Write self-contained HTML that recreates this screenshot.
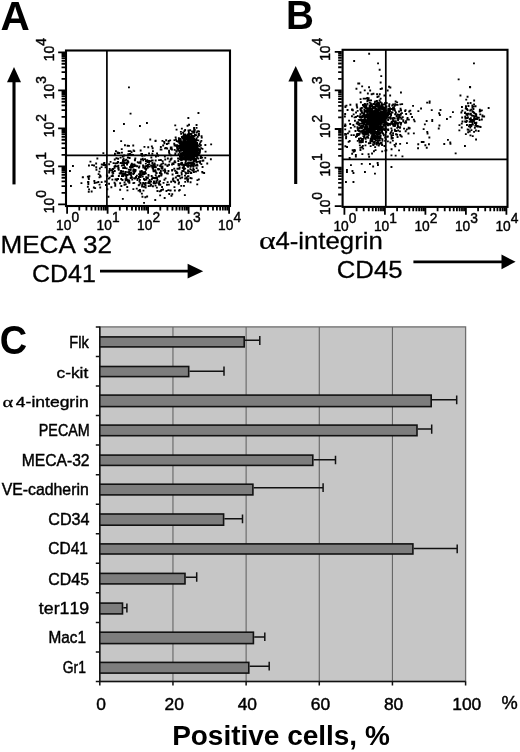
<!DOCTYPE html>
<html><head><meta charset="utf-8"><style>
html,body{margin:0;padding:0;background:#fff;}
svg{display:block;filter:blur(0.35px);font-family:"Liberation Sans", sans-serif;font-kerning:none;}
text{fill:#000;}
</style></head><body>
<svg width="520" height="752" viewBox="0 0 520 752">
<text transform="translate(0.39,29.80) scale(1.000,1)" font-size="40.55" font-weight="bold">A</text>
<text transform="translate(285.91,28.80) scale(0.961,1)" font-size="40.26" font-weight="bold">B</text>
<text transform="translate(-0.36,353.60) scale(0.943,1)" font-size="40.24" font-weight="bold">C</text>
<rect x="66" y="50.5" width="164" height="155.5" fill="none" stroke="#000" stroke-width="2.1"/>
<path d="M65.15 204.30H58.15M65.15 192.86H61.55M65.15 186.17H61.55M65.15 181.42H61.55M65.15 177.74H61.55M65.15 174.73H61.55M65.15 172.19H61.55M65.15 169.98H61.55M65.15 168.04H61.55M65.15 166.30H58.15M65.15 154.86H61.55M65.15 148.17H61.55M65.15 143.42H61.55M65.15 139.74H61.55M65.15 136.73H61.55M65.15 134.19H61.55M65.15 131.98H61.55M65.15 130.04H61.55M65.15 128.30H58.15M65.15 116.86H61.55M65.15 110.17H61.55M65.15 105.42H61.55M65.15 101.74H61.55M65.15 98.73H61.55M65.15 96.19H61.55M65.15 93.98H61.55M65.15 92.04H61.55M65.15 90.30H58.15M65.15 78.86H61.55M65.15 72.17H61.55M65.15 67.42H61.55M65.15 63.74H61.55M65.15 60.73H61.55M65.15 58.19H61.55M65.15 55.98H61.55M65.15 54.04H61.55M65.15 52.30H58.15" stroke="#000" stroke-width="1.8" fill="none"/>
<path d="M67.10 206.85V213.65M79.29 206.85V210.45M86.42 206.85V210.45M91.48 206.85V210.45M95.41 206.85V210.45M98.62 206.85V210.45M101.33 206.85V210.45M103.68 206.85V210.45M105.75 206.85V210.45M107.60 206.85V213.65M119.79 206.85V210.45M126.92 206.85V210.45M131.98 206.85V210.45M135.91 206.85V210.45M139.12 206.85V210.45M141.83 206.85V210.45M144.18 206.85V210.45M146.25 206.85V210.45M148.10 206.85V213.65M160.29 206.85V210.45M167.42 206.85V210.45M172.48 206.85V210.45M176.41 206.85V210.45M179.62 206.85V210.45M182.33 206.85V210.45M184.68 206.85V210.45M186.75 206.85V210.45M188.60 206.85V213.65M200.79 206.85V210.45M207.92 206.85V210.45M212.98 206.85V210.45M216.91 206.85V210.45M220.12 206.85V210.45M222.83 206.85V210.45M225.18 206.85V210.45M227.25 206.85V210.45M229.10 206.85V213.65" stroke="#000" stroke-width="1.8" fill="none"/>
<path d="M106.9 50.5V206M66 155.3H230" stroke="#000" stroke-width="1.7" fill="none"/>
<text transform="translate(56.10,229.8) scale(0.92,1)" font-size="15" stroke="#000" stroke-width="0.45">10<tspan dy="-8.1">0</tspan></text>
<text transform="translate(96.60,229.8) scale(0.92,1)" font-size="15" stroke="#000" stroke-width="0.45">10<tspan dy="-8.1">1</tspan></text>
<text transform="translate(137.10,229.8) scale(0.92,1)" font-size="15" stroke="#000" stroke-width="0.45">10<tspan dy="-8.1">2</tspan></text>
<text transform="translate(177.60,229.8) scale(0.92,1)" font-size="15" stroke="#000" stroke-width="0.45">10<tspan dy="-8.1">3</tspan></text>
<text transform="translate(218.10,229.8) scale(0.92,1)" font-size="15" stroke="#000" stroke-width="0.45">10<tspan dy="-8.1">4</tspan></text>
<text transform="translate(53.7,213.20) rotate(-90) scale(0.92,1)" font-size="15" stroke="#000" stroke-width="0.45">10<tspan dy="-8.1">0</tspan></text>
<text transform="translate(53.7,175.20) rotate(-90) scale(0.92,1)" font-size="15" stroke="#000" stroke-width="0.45">10<tspan dy="-8.1">1</tspan></text>
<text transform="translate(53.7,137.20) rotate(-90) scale(0.92,1)" font-size="15" stroke="#000" stroke-width="0.45">10<tspan dy="-8.1">2</tspan></text>
<text transform="translate(53.7,99.20) rotate(-90) scale(0.92,1)" font-size="15" stroke="#000" stroke-width="0.45">10<tspan dy="-8.1">3</tspan></text>
<text transform="translate(53.7,61.20) rotate(-90) scale(0.92,1)" font-size="15" stroke="#000" stroke-width="0.45">10<tspan dy="-8.1">4</tspan></text>
<rect x="342.6" y="49.8" width="164.89999999999998" height="157.10000000000002" fill="none" stroke="#000" stroke-width="2.1"/>
<path d="M341.75 206.10H334.75M341.75 194.50H338.15M341.75 187.71H338.15M341.75 182.89H338.15M341.75 179.15H338.15M341.75 176.10H338.15M341.75 173.52H338.15M341.75 171.29H338.15M341.75 169.31H338.15M341.75 167.55H334.75M341.75 155.95H338.15M341.75 149.16H338.15M341.75 144.34H338.15M341.75 140.60H338.15M341.75 137.55H338.15M341.75 134.97H338.15M341.75 132.74H338.15M341.75 130.76H338.15M341.75 129.00H334.75M341.75 117.40H338.15M341.75 110.61H338.15M341.75 105.79H338.15M341.75 102.05H338.15M341.75 99.00H338.15M341.75 96.42H338.15M341.75 94.19H338.15M341.75 92.21H338.15M341.75 90.45H334.75M341.75 78.85H338.15M341.75 72.06H338.15M341.75 67.24H338.15M341.75 63.50H338.15M341.75 60.45H338.15M341.75 57.87H338.15M341.75 55.64H338.15M341.75 53.66H338.15M341.75 51.90H334.75" stroke="#000" stroke-width="1.8" fill="none"/>
<path d="M344.40 207.75V214.75M356.59 207.75V211.35M363.72 207.75V211.35M368.78 207.75V211.35M372.71 207.75V211.35M375.92 207.75V211.35M378.63 207.75V211.35M380.98 207.75V211.35M383.05 207.75V211.35M384.90 207.75V214.75M397.09 207.75V211.35M404.22 207.75V211.35M409.28 207.75V211.35M413.21 207.75V211.35M416.42 207.75V211.35M419.13 207.75V211.35M421.48 207.75V211.35M423.55 207.75V211.35M425.40 207.75V214.75M437.59 207.75V211.35M444.72 207.75V211.35M449.78 207.75V211.35M453.71 207.75V211.35M456.92 207.75V211.35M459.63 207.75V211.35M461.98 207.75V211.35M464.05 207.75V211.35M465.90 207.75V214.75M478.09 207.75V211.35M485.22 207.75V211.35M490.28 207.75V211.35M494.21 207.75V211.35M497.42 207.75V211.35M500.13 207.75V211.35M502.48 207.75V211.35M504.55 207.75V211.35M506.40 207.75V214.75" stroke="#000" stroke-width="1.8" fill="none"/>
<path d="M385.8 49.8V206.9M342.6 159.3H507.5" stroke="#000" stroke-width="1.7" fill="none"/>
<text transform="translate(333.40,231.4) scale(0.92,1)" font-size="15" stroke="#000" stroke-width="0.45">10<tspan dy="-8.1">0</tspan></text>
<text transform="translate(373.90,231.4) scale(0.92,1)" font-size="15" stroke="#000" stroke-width="0.45">10<tspan dy="-8.1">1</tspan></text>
<text transform="translate(414.40,231.4) scale(0.92,1)" font-size="15" stroke="#000" stroke-width="0.45">10<tspan dy="-8.1">2</tspan></text>
<text transform="translate(454.90,231.4) scale(0.92,1)" font-size="15" stroke="#000" stroke-width="0.45">10<tspan dy="-8.1">3</tspan></text>
<text transform="translate(495.40,231.4) scale(0.92,1)" font-size="15" stroke="#000" stroke-width="0.45">10<tspan dy="-8.1">4</tspan></text>
<text transform="translate(330.0,215.00) rotate(-90) scale(0.92,1)" font-size="15" stroke="#000" stroke-width="0.45">10<tspan dy="-8.1">0</tspan></text>
<text transform="translate(330.0,176.45) rotate(-90) scale(0.92,1)" font-size="15" stroke="#000" stroke-width="0.45">10<tspan dy="-8.1">1</tspan></text>
<text transform="translate(330.0,137.90) rotate(-90) scale(0.92,1)" font-size="15" stroke="#000" stroke-width="0.45">10<tspan dy="-8.1">2</tspan></text>
<text transform="translate(330.0,99.35) rotate(-90) scale(0.92,1)" font-size="15" stroke="#000" stroke-width="0.45">10<tspan dy="-8.1">3</tspan></text>
<text transform="translate(330.0,60.80) rotate(-90) scale(0.92,1)" font-size="15" stroke="#000" stroke-width="0.45">10<tspan dy="-8.1">4</tspan></text>
<path d="M187.2 150.9h1.9v1.9h-1.9zM187.3 145.4h1.9v1.9h-1.9zM184.2 146.1h1.9v1.9h-1.9zM193.2 150.3h1.9v1.9h-1.9zM192.9 149.1h1.9v1.9h-1.9zM190.0 148.7h1.9v1.9h-1.9zM181.0 153.1h1.9v1.9h-1.9zM190.5 150.8h1.9v1.9h-1.9zM180.9 136.0h1.9v1.9h-1.9zM184.4 144.4h1.9v1.9h-1.9zM189.6 147.2h1.9v1.9h-1.9zM190.6 143.3h1.9v1.9h-1.9zM189.7 150.1h1.9v1.9h-1.9zM185.4 158.8h1.9v1.9h-1.9zM190.7 155.4h1.9v1.9h-1.9zM185.6 142.6h1.9v1.9h-1.9zM186.8 146.8h1.9v1.9h-1.9zM191.1 149.1h1.9v1.9h-1.9zM186.3 141.2h1.9v1.9h-1.9zM186.0 155.6h1.9v1.9h-1.9zM184.7 149.1h1.9v1.9h-1.9zM190.2 137.7h1.9v1.9h-1.9zM188.5 156.1h1.9v1.9h-1.9zM179.4 145.4h1.9v1.9h-1.9zM187.8 142.1h1.9v1.9h-1.9zM190.5 147.1h1.9v1.9h-1.9zM181.9 153.0h1.9v1.9h-1.9zM191.2 153.7h1.9v1.9h-1.9zM194.6 149.9h1.9v1.9h-1.9zM188.8 138.9h1.9v1.9h-1.9zM191.0 143.5h1.9v1.9h-1.9zM186.3 139.2h1.9v1.9h-1.9zM184.0 144.0h1.9v1.9h-1.9zM194.0 134.1h1.9v1.9h-1.9zM181.9 149.1h1.9v1.9h-1.9zM194.7 151.3h1.9v1.9h-1.9zM179.9 130.9h1.9v1.9h-1.9zM189.9 142.6h1.9v1.9h-1.9zM183.4 154.0h1.9v1.9h-1.9zM193.1 148.5h1.9v1.9h-1.9zM189.4 150.4h1.9v1.9h-1.9zM195.3 151.6h1.9v1.9h-1.9zM190.6 151.1h1.9v1.9h-1.9zM181.4 156.0h1.9v1.9h-1.9zM192.5 151.0h1.9v1.9h-1.9zM179.6 143.3h1.9v1.9h-1.9zM192.0 135.5h1.9v1.9h-1.9zM187.5 154.2h1.9v1.9h-1.9zM182.5 158.1h1.9v1.9h-1.9zM190.7 146.5h1.9v1.9h-1.9zM189.7 151.8h1.9v1.9h-1.9zM188.8 155.1h1.9v1.9h-1.9zM185.4 144.8h1.9v1.9h-1.9zM192.9 147.7h1.9v1.9h-1.9zM184.4 153.7h1.9v1.9h-1.9zM194.7 144.6h1.9v1.9h-1.9zM182.2 146.6h1.9v1.9h-1.9zM187.6 145.5h1.9v1.9h-1.9zM194.5 140.7h1.9v1.9h-1.9zM193.8 139.1h1.9v1.9h-1.9zM184.8 151.7h1.9v1.9h-1.9zM193.3 153.2h1.9v1.9h-1.9zM189.8 148.4h1.9v1.9h-1.9zM189.0 151.3h1.9v1.9h-1.9zM187.5 149.3h1.9v1.9h-1.9zM190.8 147.5h1.9v1.9h-1.9zM191.7 151.2h1.9v1.9h-1.9zM197.1 149.6h1.9v1.9h-1.9zM186.4 145.0h1.9v1.9h-1.9zM188.2 153.6h1.9v1.9h-1.9zM186.8 150.0h1.9v1.9h-1.9zM196.4 130.6h1.9v1.9h-1.9zM183.4 149.1h1.9v1.9h-1.9zM190.1 149.1h1.9v1.9h-1.9zM186.4 151.8h1.9v1.9h-1.9zM189.5 144.1h1.9v1.9h-1.9zM199.0 149.8h1.9v1.9h-1.9zM185.9 146.8h1.9v1.9h-1.9zM187.3 147.1h1.9v1.9h-1.9zM176.3 144.3h1.9v1.9h-1.9zM192.7 139.8h1.9v1.9h-1.9zM188.0 153.8h1.9v1.9h-1.9zM192.1 157.3h1.9v1.9h-1.9zM180.8 145.2h1.9v1.9h-1.9zM186.8 151.6h1.9v1.9h-1.9zM193.1 129.8h1.9v1.9h-1.9zM193.1 137.9h1.9v1.9h-1.9zM191.3 137.7h1.9v1.9h-1.9zM189.1 155.4h1.9v1.9h-1.9zM187.6 148.8h1.9v1.9h-1.9zM191.8 148.4h1.9v1.9h-1.9zM187.9 157.6h1.9v1.9h-1.9zM192.9 145.6h1.9v1.9h-1.9zM200.4 139.9h1.9v1.9h-1.9zM192.3 145.7h1.9v1.9h-1.9zM188.9 152.2h1.9v1.9h-1.9zM189.3 151.7h1.9v1.9h-1.9zM181.6 137.5h1.9v1.9h-1.9zM191.0 141.1h1.9v1.9h-1.9zM183.8 137.8h1.9v1.9h-1.9zM193.9 152.4h1.9v1.9h-1.9zM194.8 141.3h1.9v1.9h-1.9zM188.3 140.0h1.9v1.9h-1.9zM191.7 158.0h1.9v1.9h-1.9zM184.4 157.8h1.9v1.9h-1.9zM192.6 146.3h1.9v1.9h-1.9zM179.6 156.8h1.9v1.9h-1.9zM187.9 143.5h1.9v1.9h-1.9zM190.1 150.2h1.9v1.9h-1.9zM194.9 140.8h1.9v1.9h-1.9zM193.3 157.3h1.9v1.9h-1.9zM194.7 146.3h1.9v1.9h-1.9zM185.0 154.2h1.9v1.9h-1.9zM188.8 148.3h1.9v1.9h-1.9zM194.6 145.8h1.9v1.9h-1.9zM178.2 144.9h1.9v1.9h-1.9zM180.1 152.9h1.9v1.9h-1.9zM189.7 143.5h1.9v1.9h-1.9zM188.3 153.0h1.9v1.9h-1.9zM188.6 156.3h1.9v1.9h-1.9zM188.0 154.4h1.9v1.9h-1.9zM194.9 158.1h1.9v1.9h-1.9zM185.3 153.3h1.9v1.9h-1.9zM180.0 140.3h1.9v1.9h-1.9zM179.7 154.6h1.9v1.9h-1.9zM182.9 147.4h1.9v1.9h-1.9zM187.5 147.3h1.9v1.9h-1.9zM185.7 149.0h1.9v1.9h-1.9zM196.2 147.8h1.9v1.9h-1.9zM190.6 154.1h1.9v1.9h-1.9zM187.4 139.2h1.9v1.9h-1.9zM185.9 154.6h1.9v1.9h-1.9zM181.1 143.6h1.9v1.9h-1.9zM192.7 152.7h1.9v1.9h-1.9zM188.3 152.8h1.9v1.9h-1.9zM189.0 139.7h1.9v1.9h-1.9zM181.4 143.3h1.9v1.9h-1.9zM192.4 143.8h1.9v1.9h-1.9zM184.3 142.4h1.9v1.9h-1.9zM181.6 146.7h1.9v1.9h-1.9zM183.1 149.9h1.9v1.9h-1.9zM177.9 149.7h1.9v1.9h-1.9zM185.5 134.7h1.9v1.9h-1.9zM191.5 145.7h1.9v1.9h-1.9zM178.5 141.7h1.9v1.9h-1.9zM189.6 144.5h1.9v1.9h-1.9zM191.7 152.4h1.9v1.9h-1.9zM191.2 149.7h1.9v1.9h-1.9zM194.2 151.9h1.9v1.9h-1.9zM190.3 133.7h1.9v1.9h-1.9zM192.2 156.1h1.9v1.9h-1.9zM187.0 144.4h1.9v1.9h-1.9zM196.8 135.9h1.9v1.9h-1.9zM190.4 163.5h1.9v1.9h-1.9zM184.2 152.1h1.9v1.9h-1.9zM196.6 146.7h1.9v1.9h-1.9zM190.8 153.5h1.9v1.9h-1.9zM184.3 146.9h1.9v1.9h-1.9zM189.6 152.9h1.9v1.9h-1.9zM188.1 146.2h1.9v1.9h-1.9zM183.8 145.1h1.9v1.9h-1.9zM192.2 148.2h1.9v1.9h-1.9zM184.5 141.9h1.9v1.9h-1.9zM200.0 155.0h1.9v1.9h-1.9zM191.1 130.4h1.9v1.9h-1.9zM191.0 150.7h1.9v1.9h-1.9zM195.7 150.3h1.9v1.9h-1.9zM188.0 150.9h1.9v1.9h-1.9zM179.7 154.3h1.9v1.9h-1.9zM189.7 142.9h1.9v1.9h-1.9zM194.1 159.4h1.9v1.9h-1.9zM182.1 143.1h1.9v1.9h-1.9zM189.6 148.7h1.9v1.9h-1.9zM186.5 141.1h1.9v1.9h-1.9zM197.6 154.3h1.9v1.9h-1.9zM183.0 138.6h1.9v1.9h-1.9zM195.8 154.0h1.9v1.9h-1.9zM196.3 152.8h1.9v1.9h-1.9zM184.5 149.2h1.9v1.9h-1.9zM178.8 142.6h1.9v1.9h-1.9zM188.0 151.0h1.9v1.9h-1.9zM185.1 146.7h1.9v1.9h-1.9zM190.3 150.0h1.9v1.9h-1.9zM191.1 148.9h1.9v1.9h-1.9zM186.9 152.7h1.9v1.9h-1.9zM188.5 142.0h1.9v1.9h-1.9zM185.5 147.5h1.9v1.9h-1.9zM187.8 148.5h1.9v1.9h-1.9zM188.3 148.7h1.9v1.9h-1.9zM187.7 139.2h1.9v1.9h-1.9zM190.2 154.5h1.9v1.9h-1.9zM190.2 146.3h1.9v1.9h-1.9zM190.3 141.1h1.9v1.9h-1.9zM180.0 147.9h1.9v1.9h-1.9zM184.2 152.4h1.9v1.9h-1.9zM183.5 130.2h1.9v1.9h-1.9zM183.7 157.9h1.9v1.9h-1.9zM186.6 138.5h1.9v1.9h-1.9zM184.9 150.9h1.9v1.9h-1.9zM190.5 148.7h1.9v1.9h-1.9zM194.8 152.2h1.9v1.9h-1.9zM188.2 151.4h1.9v1.9h-1.9zM195.6 153.9h1.9v1.9h-1.9zM192.8 140.4h1.9v1.9h-1.9zM187.6 152.3h1.9v1.9h-1.9zM187.0 154.6h1.9v1.9h-1.9zM190.9 153.5h1.9v1.9h-1.9zM187.4 164.3h1.9v1.9h-1.9zM193.8 146.1h1.9v1.9h-1.9zM188.7 164.6h1.9v1.9h-1.9zM186.8 153.3h1.9v1.9h-1.9zM192.6 147.5h1.9v1.9h-1.9zM183.2 148.7h1.9v1.9h-1.9zM189.9 155.0h1.9v1.9h-1.9zM191.7 147.7h1.9v1.9h-1.9zM192.1 151.1h1.9v1.9h-1.9zM189.2 147.9h1.9v1.9h-1.9zM187.2 152.0h1.9v1.9h-1.9zM183.7 143.4h1.9v1.9h-1.9zM188.3 137.8h1.9v1.9h-1.9zM186.4 134.2h1.9v1.9h-1.9zM185.3 151.3h1.9v1.9h-1.9zM190.8 147.1h1.9v1.9h-1.9zM187.3 138.1h1.9v1.9h-1.9zM196.3 150.9h1.9v1.9h-1.9zM193.1 141.7h1.9v1.9h-1.9zM187.5 135.5h1.9v1.9h-1.9zM191.7 153.7h1.9v1.9h-1.9zM180.0 147.2h1.9v1.9h-1.9zM191.1 135.9h1.9v1.9h-1.9zM180.3 140.5h1.9v1.9h-1.9zM185.5 138.2h1.9v1.9h-1.9zM188.4 149.1h1.9v1.9h-1.9zM191.1 152.1h1.9v1.9h-1.9zM194.9 155.2h1.9v1.9h-1.9zM182.5 144.2h1.9v1.9h-1.9zM183.6 140.4h1.9v1.9h-1.9zM187.9 147.5h1.9v1.9h-1.9zM190.5 137.0h1.9v1.9h-1.9zM182.9 147.3h1.9v1.9h-1.9zM187.4 145.4h1.9v1.9h-1.9zM188.0 142.5h1.9v1.9h-1.9zM191.4 149.8h1.9v1.9h-1.9zM187.9 143.1h1.9v1.9h-1.9zM187.5 129.5h1.9v1.9h-1.9zM184.0 147.7h1.9v1.9h-1.9zM181.7 148.8h1.9v1.9h-1.9zM188.9 138.4h1.9v1.9h-1.9zM187.2 145.4h1.9v1.9h-1.9zM190.3 151.5h1.9v1.9h-1.9zM188.1 141.9h1.9v1.9h-1.9zM187.7 147.1h1.9v1.9h-1.9zM191.5 149.4h1.9v1.9h-1.9zM185.1 138.6h1.9v1.9h-1.9zM186.7 142.6h1.9v1.9h-1.9zM183.4 146.7h1.9v1.9h-1.9zM186.1 148.2h1.9v1.9h-1.9zM190.6 144.8h1.9v1.9h-1.9zM198.5 145.4h1.9v1.9h-1.9zM193.1 148.3h1.9v1.9h-1.9zM193.2 131.8h1.9v1.9h-1.9zM185.0 149.1h1.9v1.9h-1.9zM191.0 162.9h1.9v1.9h-1.9zM189.7 155.9h1.9v1.9h-1.9zM191.7 153.8h1.9v1.9h-1.9zM190.5 146.5h1.9v1.9h-1.9zM190.5 140.4h1.9v1.9h-1.9zM193.5 140.8h1.9v1.9h-1.9zM189.4 161.5h1.9v1.9h-1.9zM187.3 147.6h1.9v1.9h-1.9zM193.4 147.7h1.9v1.9h-1.9zM184.7 149.2h1.9v1.9h-1.9zM190.9 152.2h1.9v1.9h-1.9zM184.9 159.1h1.9v1.9h-1.9zM195.6 147.6h1.9v1.9h-1.9zM189.5 144.7h1.9v1.9h-1.9zM194.5 142.8h1.9v1.9h-1.9zM191.3 144.3h1.9v1.9h-1.9zM185.2 152.2h1.9v1.9h-1.9zM194.2 147.4h1.9v1.9h-1.9zM185.3 152.9h1.9v1.9h-1.9zM188.1 149.6h1.9v1.9h-1.9zM195.0 155.0h1.9v1.9h-1.9zM186.0 162.6h1.9v1.9h-1.9zM188.3 152.7h1.9v1.9h-1.9zM185.5 147.2h1.9v1.9h-1.9zM180.6 159.3h1.9v1.9h-1.9zM194.3 139.5h1.9v1.9h-1.9zM181.7 136.8h1.9v1.9h-1.9zM193.5 144.5h1.9v1.9h-1.9zM188.0 145.4h1.9v1.9h-1.9zM187.8 140.3h1.9v1.9h-1.9zM188.4 138.0h1.9v1.9h-1.9zM188.0 149.5h1.9v1.9h-1.9zM190.4 146.0h1.9v1.9h-1.9zM184.3 148.6h1.9v1.9h-1.9zM186.2 157.8h1.9v1.9h-1.9zM191.7 146.7h1.9v1.9h-1.9zM186.2 142.9h1.9v1.9h-1.9zM184.2 145.2h1.9v1.9h-1.9zM189.6 150.9h1.9v1.9h-1.9zM190.8 161.4h1.9v1.9h-1.9zM185.2 147.6h1.9v1.9h-1.9zM200.6 135.2h1.9v1.9h-1.9zM186.0 148.6h1.9v1.9h-1.9zM189.0 150.2h1.9v1.9h-1.9zM187.2 149.9h1.9v1.9h-1.9zM188.5 152.6h1.9v1.9h-1.9zM180.0 141.7h1.9v1.9h-1.9zM188.3 140.7h1.9v1.9h-1.9zM183.7 151.6h1.9v1.9h-1.9zM185.4 151.7h1.9v1.9h-1.9zM191.6 149.5h1.9v1.9h-1.9zM190.5 146.8h1.9v1.9h-1.9zM182.1 147.3h1.9v1.9h-1.9zM190.3 144.0h1.9v1.9h-1.9zM187.9 152.4h1.9v1.9h-1.9zM184.4 151.7h1.9v1.9h-1.9zM196.5 143.8h1.9v1.9h-1.9zM188.9 146.5h1.9v1.9h-1.9zM195.1 149.6h1.9v1.9h-1.9zM192.3 142.9h1.9v1.9h-1.9zM188.2 147.4h1.9v1.9h-1.9zM180.5 157.0h1.9v1.9h-1.9zM192.3 136.0h1.9v1.9h-1.9zM191.6 146.6h1.9v1.9h-1.9zM190.3 149.9h1.9v1.9h-1.9zM181.7 146.1h1.9v1.9h-1.9zM194.9 143.7h1.9v1.9h-1.9zM183.8 138.5h1.9v1.9h-1.9zM182.9 149.7h1.9v1.9h-1.9zM195.7 150.3h1.9v1.9h-1.9zM189.4 162.2h1.9v1.9h-1.9zM186.0 143.1h1.9v1.9h-1.9zM190.6 151.1h1.9v1.9h-1.9zM183.8 139.8h1.9v1.9h-1.9zM189.6 149.1h1.9v1.9h-1.9zM182.5 146.2h1.9v1.9h-1.9zM185.9 150.5h1.9v1.9h-1.9zM187.8 146.9h1.9v1.9h-1.9zM186.7 154.5h1.9v1.9h-1.9zM194.4 145.1h1.9v1.9h-1.9zM192.0 142.5h1.9v1.9h-1.9zM188.6 152.4h1.9v1.9h-1.9zM195.0 145.0h1.9v1.9h-1.9zM188.0 148.8h1.9v1.9h-1.9zM181.7 147.6h1.9v1.9h-1.9zM185.3 150.0h1.9v1.9h-1.9zM183.3 134.5h1.9v1.9h-1.9zM188.5 149.2h1.9v1.9h-1.9zM185.9 153.4h1.9v1.9h-1.9zM187.1 143.5h1.9v1.9h-1.9zM190.4 137.1h1.9v1.9h-1.9zM185.3 147.4h1.9v1.9h-1.9zM192.0 146.4h1.9v1.9h-1.9zM189.7 143.2h1.9v1.9h-1.9zM189.6 158.5h1.9v1.9h-1.9zM185.3 163.1h1.9v1.9h-1.9zM185.5 147.6h1.9v1.9h-1.9zM189.1 154.3h1.9v1.9h-1.9zM182.9 133.6h1.9v1.9h-1.9zM191.0 152.7h1.9v1.9h-1.9zM191.0 164.9h1.9v1.9h-1.9zM189.2 149.2h1.9v1.9h-1.9zM192.4 149.9h1.9v1.9h-1.9zM195.6 139.3h1.9v1.9h-1.9zM186.6 124.8h1.9v1.9h-1.9zM191.9 145.0h1.9v1.9h-1.9zM192.4 161.7h1.9v1.9h-1.9zM188.3 145.8h1.9v1.9h-1.9zM186.1 142.0h1.9v1.9h-1.9zM185.5 151.7h1.9v1.9h-1.9zM188.5 147.9h1.9v1.9h-1.9zM187.5 153.5h1.9v1.9h-1.9zM190.5 146.6h1.9v1.9h-1.9zM191.2 146.5h1.9v1.9h-1.9zM183.2 157.1h1.9v1.9h-1.9zM190.3 141.2h1.9v1.9h-1.9zM193.0 149.8h1.9v1.9h-1.9zM181.4 158.1h1.9v1.9h-1.9zM189.8 153.4h1.9v1.9h-1.9zM189.2 146.5h1.9v1.9h-1.9zM181.5 153.9h1.9v1.9h-1.9zM188.4 145.6h1.9v1.9h-1.9zM189.8 148.0h1.9v1.9h-1.9zM191.3 145.1h1.9v1.9h-1.9zM188.1 133.4h1.9v1.9h-1.9zM186.4 152.0h1.9v1.9h-1.9zM194.2 145.1h1.9v1.9h-1.9zM187.8 158.0h1.9v1.9h-1.9zM186.9 152.3h1.9v1.9h-1.9zM195.7 147.8h1.9v1.9h-1.9zM193.7 142.8h1.9v1.9h-1.9zM189.2 147.0h1.9v1.9h-1.9zM188.8 155.0h1.9v1.9h-1.9zM198.8 143.1h1.9v1.9h-1.9zM185.8 150.8h1.9v1.9h-1.9zM183.7 150.8h1.9v1.9h-1.9zM190.8 145.7h1.9v1.9h-1.9zM190.6 137.3h1.9v1.9h-1.9zM191.6 137.3h1.9v1.9h-1.9zM185.2 143.8h1.9v1.9h-1.9zM186.5 153.2h1.9v1.9h-1.9zM188.7 144.9h1.9v1.9h-1.9zM190.7 157.9h1.9v1.9h-1.9zM188.3 149.9h1.9v1.9h-1.9zM193.8 149.3h1.9v1.9h-1.9zM182.7 163.9h1.9v1.9h-1.9zM198.0 134.4h1.9v1.9h-1.9zM188.1 150.3h1.9v1.9h-1.9zM192.5 151.9h1.9v1.9h-1.9zM187.1 140.5h1.9v1.9h-1.9zM188.8 154.3h1.9v1.9h-1.9zM183.5 140.7h1.9v1.9h-1.9zM188.2 134.7h1.9v1.9h-1.9zM187.2 144.6h1.9v1.9h-1.9zM190.3 142.9h1.9v1.9h-1.9zM184.4 144.9h1.9v1.9h-1.9zM188.1 143.1h1.9v1.9h-1.9zM188.4 152.5h1.9v1.9h-1.9zM193.5 158.8h1.9v1.9h-1.9zM184.9 144.7h1.9v1.9h-1.9zM177.4 160.0h1.9v1.9h-1.9zM185.1 147.3h1.9v1.9h-1.9zM190.6 138.5h1.9v1.9h-1.9zM190.3 147.3h1.9v1.9h-1.9zM180.3 149.4h1.9v1.9h-1.9zM193.6 135.2h1.9v1.9h-1.9zM191.9 148.9h1.9v1.9h-1.9zM190.4 150.4h1.9v1.9h-1.9zM194.0 146.0h1.9v1.9h-1.9zM192.1 144.8h1.9v1.9h-1.9zM191.5 142.1h1.9v1.9h-1.9zM187.8 158.9h1.9v1.9h-1.9zM190.3 146.5h1.9v1.9h-1.9zM183.3 142.3h1.9v1.9h-1.9zM189.2 153.7h1.9v1.9h-1.9zM190.2 151.0h1.9v1.9h-1.9zM188.1 156.4h1.9v1.9h-1.9zM186.6 143.9h1.9v1.9h-1.9zM192.2 147.9h1.9v1.9h-1.9zM187.1 143.7h1.9v1.9h-1.9zM187.2 151.6h1.9v1.9h-1.9zM189.9 139.5h1.9v1.9h-1.9zM190.2 148.7h1.9v1.9h-1.9zM183.9 152.6h1.9v1.9h-1.9zM187.1 145.3h1.9v1.9h-1.9zM191.8 156.2h1.9v1.9h-1.9zM185.3 150.4h1.9v1.9h-1.9zM184.4 162.8h1.9v1.9h-1.9zM186.1 155.4h1.9v1.9h-1.9zM185.5 152.9h1.9v1.9h-1.9zM198.1 130.7h1.9v1.9h-1.9zM186.4 150.8h1.9v1.9h-1.9zM187.9 143.1h1.9v1.9h-1.9zM197.8 148.0h1.9v1.9h-1.9zM181.1 153.1h1.9v1.9h-1.9zM180.7 155.1h1.9v1.9h-1.9zM185.8 148.5h1.9v1.9h-1.9zM193.8 148.3h1.9v1.9h-1.9zM182.2 136.3h1.9v1.9h-1.9zM193.5 152.4h1.9v1.9h-1.9zM184.7 153.2h1.9v1.9h-1.9zM190.5 151.8h1.9v1.9h-1.9zM178.4 145.5h1.9v1.9h-1.9zM192.3 152.3h1.9v1.9h-1.9zM192.2 131.3h1.9v1.9h-1.9zM189.0 150.7h1.9v1.9h-1.9zM199.5 141.2h1.9v1.9h-1.9zM186.9 147.7h1.9v1.9h-1.9zM192.2 144.6h1.9v1.9h-1.9zM193.3 142.3h1.9v1.9h-1.9zM189.5 144.0h1.9v1.9h-1.9zM189.0 142.9h1.9v1.9h-1.9zM181.3 154.7h1.9v1.9h-1.9zM189.6 143.8h1.9v1.9h-1.9zM189.2 154.0h1.9v1.9h-1.9zM184.0 146.8h1.9v1.9h-1.9zM190.7 151.0h1.9v1.9h-1.9zM186.8 133.6h1.9v1.9h-1.9zM193.8 149.7h1.9v1.9h-1.9zM188.4 145.7h1.9v1.9h-1.9zM189.5 144.7h1.9v1.9h-1.9zM183.8 142.6h1.9v1.9h-1.9zM185.7 143.5h1.9v1.9h-1.9zM183.2 151.7h1.9v1.9h-1.9zM182.5 151.9h1.9v1.9h-1.9zM183.8 149.8h1.9v1.9h-1.9zM194.3 148.8h1.9v1.9h-1.9zM185.1 147.8h1.9v1.9h-1.9zM189.0 136.1h1.9v1.9h-1.9zM185.6 148.6h1.9v1.9h-1.9zM186.2 148.0h1.9v1.9h-1.9zM191.5 152.6h1.9v1.9h-1.9zM192.3 151.4h1.9v1.9h-1.9zM187.0 147.4h1.9v1.9h-1.9zM187.1 145.4h1.9v1.9h-1.9zM187.5 136.1h1.9v1.9h-1.9zM186.8 147.3h1.9v1.9h-1.9zM184.0 147.3h1.9v1.9h-1.9zM190.6 146.4h1.9v1.9h-1.9zM197.4 130.3h1.9v1.9h-1.9zM187.4 135.5h1.9v1.9h-1.9zM192.6 165.0h1.9v1.9h-1.9zM177.3 148.3h1.9v1.9h-1.9zM190.6 145.5h1.9v1.9h-1.9zM190.7 132.7h1.9v1.9h-1.9zM192.0 150.0h1.9v1.9h-1.9zM188.4 143.6h1.9v1.9h-1.9zM191.1 144.3h1.9v1.9h-1.9zM189.3 144.1h1.9v1.9h-1.9zM178.4 147.3h1.9v1.9h-1.9zM189.2 152.5h1.9v1.9h-1.9zM184.4 147.3h1.9v1.9h-1.9zM191.0 148.5h1.9v1.9h-1.9zM193.8 160.6h1.9v1.9h-1.9zM184.3 134.8h1.9v1.9h-1.9zM192.1 157.6h1.9v1.9h-1.9zM192.4 152.9h1.9v1.9h-1.9zM185.6 142.8h1.9v1.9h-1.9zM192.2 141.5h1.9v1.9h-1.9zM180.3 140.9h1.9v1.9h-1.9zM199.3 160.2h1.9v1.9h-1.9zM185.3 142.7h1.9v1.9h-1.9zM189.3 142.6h1.9v1.9h-1.9zM194.1 147.0h1.9v1.9h-1.9zM183.5 156.1h1.9v1.9h-1.9zM185.7 149.0h1.9v1.9h-1.9zM188.2 145.4h1.9v1.9h-1.9zM189.7 142.9h1.9v1.9h-1.9zM180.2 132.9h1.9v1.9h-1.9zM182.7 142.5h1.9v1.9h-1.9zM188.2 147.9h1.9v1.9h-1.9zM190.7 148.3h1.9v1.9h-1.9zM184.8 142.8h1.9v1.9h-1.9zM179.0 146.4h1.9v1.9h-1.9zM190.4 151.0h1.9v1.9h-1.9zM187.8 146.4h1.9v1.9h-1.9zM192.4 147.6h1.9v1.9h-1.9zM191.5 151.3h1.9v1.9h-1.9zM189.2 156.1h1.9v1.9h-1.9zM185.8 145.1h1.9v1.9h-1.9zM184.7 142.2h1.9v1.9h-1.9zM195.1 159.1h1.9v1.9h-1.9zM188.4 151.3h1.9v1.9h-1.9zM193.5 152.8h1.9v1.9h-1.9zM193.6 139.2h1.9v1.9h-1.9zM185.5 150.5h1.9v1.9h-1.9zM194.6 148.2h1.9v1.9h-1.9zM184.5 145.2h1.9v1.9h-1.9zM185.4 141.8h1.9v1.9h-1.9zM194.9 143.4h1.9v1.9h-1.9zM188.4 161.8h1.9v1.9h-1.9zM193.5 149.7h1.9v1.9h-1.9zM185.6 150.2h1.9v1.9h-1.9zM195.4 151.6h1.9v1.9h-1.9zM193.9 148.1h1.9v1.9h-1.9zM190.6 146.2h1.9v1.9h-1.9zM190.2 156.1h1.9v1.9h-1.9zM182.0 147.1h1.9v1.9h-1.9zM189.4 143.7h1.9v1.9h-1.9zM186.9 152.7h1.9v1.9h-1.9zM197.1 151.7h1.9v1.9h-1.9zM189.7 137.3h1.9v1.9h-1.9zM196.8 148.0h1.9v1.9h-1.9zM188.2 140.1h1.9v1.9h-1.9zM188.0 140.3h1.9v1.9h-1.9zM188.6 150.6h1.9v1.9h-1.9zM188.4 149.3h1.9v1.9h-1.9zM184.6 156.9h1.9v1.9h-1.9zM185.4 135.5h1.9v1.9h-1.9zM187.5 142.5h1.9v1.9h-1.9zM183.9 145.2h1.9v1.9h-1.9zM189.6 139.7h1.9v1.9h-1.9zM187.7 156.9h1.9v1.9h-1.9zM191.3 146.5h1.9v1.9h-1.9zM188.9 146.7h1.9v1.9h-1.9zM188.1 152.3h1.9v1.9h-1.9zM187.9 131.6h1.9v1.9h-1.9zM188.2 141.6h1.9v1.9h-1.9zM191.2 143.5h1.9v1.9h-1.9zM189.0 161.9h1.9v1.9h-1.9zM183.7 140.1h1.9v1.9h-1.9zM182.1 131.7h1.9v1.9h-1.9zM180.0 149.9h1.9v1.9h-1.9zM185.5 135.2h1.9v1.9h-1.9zM181.8 151.6h1.9v1.9h-1.9zM184.9 145.1h1.9v1.9h-1.9zM189.8 156.5h1.9v1.9h-1.9zM196.8 154.3h1.9v1.9h-1.9zM188.9 148.7h1.9v1.9h-1.9zM196.2 156.9h1.9v1.9h-1.9zM186.9 150.5h1.9v1.9h-1.9zM189.6 147.8h1.9v1.9h-1.9zM186.1 138.7h1.9v1.9h-1.9zM186.0 137.3h1.9v1.9h-1.9zM193.7 151.0h1.9v1.9h-1.9zM183.0 156.7h1.9v1.9h-1.9zM192.2 134.9h1.9v1.9h-1.9zM196.4 152.8h1.9v1.9h-1.9zM197.4 139.4h1.9v1.9h-1.9zM190.6 150.3h1.9v1.9h-1.9zM189.2 148.6h1.9v1.9h-1.9zM192.9 137.6h1.9v1.9h-1.9zM182.8 138.3h1.9v1.9h-1.9zM185.8 143.5h1.9v1.9h-1.9zM189.9 149.3h1.9v1.9h-1.9zM188.4 143.0h1.9v1.9h-1.9zM186.4 153.8h1.9v1.9h-1.9zM191.7 148.2h1.9v1.9h-1.9zM186.9 157.7h1.9v1.9h-1.9zM185.7 151.8h1.9v1.9h-1.9zM193.4 145.7h1.9v1.9h-1.9zM191.9 140.1h1.9v1.9h-1.9zM192.8 148.8h1.9v1.9h-1.9zM181.3 151.9h1.9v1.9h-1.9zM184.4 156.0h1.9v1.9h-1.9zM185.3 146.4h1.9v1.9h-1.9zM189.5 145.3h1.9v1.9h-1.9zM189.4 143.8h1.9v1.9h-1.9zM191.3 147.5h1.9v1.9h-1.9zM189.2 129.3h1.9v1.9h-1.9zM193.4 147.7h1.9v1.9h-1.9zM180.5 148.1h1.9v1.9h-1.9zM190.4 154.6h1.9v1.9h-1.9zM183.5 157.7h1.9v1.9h-1.9zM187.6 163.3h1.9v1.9h-1.9zM187.7 152.0h1.9v1.9h-1.9zM186.7 140.1h1.9v1.9h-1.9zM193.1 153.5h1.9v1.9h-1.9zM195.1 153.2h1.9v1.9h-1.9zM185.8 136.5h1.9v1.9h-1.9zM185.4 143.0h1.9v1.9h-1.9zM184.7 151.3h1.9v1.9h-1.9zM189.7 145.7h1.9v1.9h-1.9zM189.1 146.5h1.9v1.9h-1.9zM189.2 152.5h1.9v1.9h-1.9zM192.5 143.0h1.9v1.9h-1.9zM181.7 156.9h1.9v1.9h-1.9zM188.8 154.8h1.9v1.9h-1.9zM181.1 145.3h1.9v1.9h-1.9zM188.4 138.0h1.9v1.9h-1.9zM186.0 152.3h1.9v1.9h-1.9zM193.0 158.0h1.9v1.9h-1.9zM184.5 138.3h1.9v1.9h-1.9zM190.6 153.7h1.9v1.9h-1.9zM189.1 138.9h1.9v1.9h-1.9zM191.7 152.7h1.9v1.9h-1.9zM190.7 144.3h1.9v1.9h-1.9zM189.6 152.7h1.9v1.9h-1.9zM185.8 135.3h1.9v1.9h-1.9zM189.7 150.7h1.9v1.9h-1.9zM188.4 153.4h1.9v1.9h-1.9zM185.7 147.0h1.9v1.9h-1.9zM187.0 151.3h1.9v1.9h-1.9zM195.3 145.8h1.9v1.9h-1.9zM197.3 157.6h1.9v1.9h-1.9zM191.8 151.4h1.9v1.9h-1.9zM196.1 146.3h1.9v1.9h-1.9zM187.8 140.5h1.9v1.9h-1.9zM190.4 156.4h1.9v1.9h-1.9zM190.6 150.3h1.9v1.9h-1.9zM187.4 148.6h1.9v1.9h-1.9zM182.0 154.4h1.9v1.9h-1.9zM186.5 140.2h1.9v1.9h-1.9zM185.0 142.1h1.9v1.9h-1.9zM192.1 154.5h1.9v1.9h-1.9zM182.3 153.6h1.9v1.9h-1.9zM192.2 143.7h1.9v1.9h-1.9zM181.8 142.6h1.9v1.9h-1.9zM185.5 149.8h1.9v1.9h-1.9zM186.7 134.1h1.9v1.9h-1.9zM189.3 137.4h1.9v1.9h-1.9zM192.3 139.5h1.9v1.9h-1.9zM185.3 141.9h1.9v1.9h-1.9zM185.9 156.1h1.9v1.9h-1.9zM192.0 151.5h1.9v1.9h-1.9zM189.7 137.3h1.9v1.9h-1.9zM186.0 143.9h1.9v1.9h-1.9zM184.0 150.9h1.9v1.9h-1.9zM185.0 142.8h1.9v1.9h-1.9zM183.7 133.9h1.9v1.9h-1.9zM190.9 156.3h1.9v1.9h-1.9zM189.1 141.1h1.9v1.9h-1.9zM176.4 148.6h1.9v1.9h-1.9zM193.7 149.5h1.9v1.9h-1.9zM192.4 157.3h1.9v1.9h-1.9zM193.3 144.6h1.9v1.9h-1.9zM192.9 152.6h1.9v1.9h-1.9zM181.5 144.8h1.9v1.9h-1.9zM182.0 146.8h1.9v1.9h-1.9zM190.8 140.5h1.9v1.9h-1.9zM179.3 156.1h1.9v1.9h-1.9zM190.0 157.2h1.9v1.9h-1.9zM182.5 154.5h1.9v1.9h-1.9zM197.4 160.7h1.9v1.9h-1.9zM187.4 149.3h1.9v1.9h-1.9zM187.6 154.1h1.9v1.9h-1.9zM192.9 148.1h1.9v1.9h-1.9zM182.3 152.4h1.9v1.9h-1.9zM186.2 151.7h1.9v1.9h-1.9zM189.5 158.2h1.9v1.9h-1.9zM193.3 144.5h1.9v1.9h-1.9zM189.8 159.1h1.9v1.9h-1.9zM185.9 150.4h1.9v1.9h-1.9zM193.5 155.8h1.9v1.9h-1.9zM190.6 138.8h1.9v1.9h-1.9zM182.8 149.1h1.9v1.9h-1.9zM190.0 164.3h1.9v1.9h-1.9zM184.5 155.0h1.9v1.9h-1.9zM191.7 136.5h1.9v1.9h-1.9zM184.7 148.6h1.9v1.9h-1.9zM186.1 146.5h1.9v1.9h-1.9zM190.4 142.2h1.9v1.9h-1.9zM190.4 143.3h1.9v1.9h-1.9zM185.9 151.0h1.9v1.9h-1.9zM185.8 149.4h1.9v1.9h-1.9zM195.3 147.7h1.9v1.9h-1.9zM187.7 152.4h1.9v1.9h-1.9zM186.7 154.6h1.9v1.9h-1.9zM182.7 151.6h1.9v1.9h-1.9zM186.0 142.2h1.9v1.9h-1.9zM196.1 141.9h1.9v1.9h-1.9zM196.0 151.8h1.9v1.9h-1.9zM194.7 141.1h1.9v1.9h-1.9zM193.6 157.1h1.9v1.9h-1.9zM187.8 146.6h1.9v1.9h-1.9zM199.1 148.7h1.9v1.9h-1.9zM186.4 143.3h1.9v1.9h-1.9zM190.3 149.7h1.9v1.9h-1.9zM189.1 158.9h1.9v1.9h-1.9zM186.9 150.6h1.9v1.9h-1.9zM194.7 140.9h1.9v1.9h-1.9zM192.9 159.6h1.9v1.9h-1.9zM182.3 140.3h1.9v1.9h-1.9zM183.7 135.3h1.9v1.9h-1.9zM190.3 135.2h1.9v1.9h-1.9zM190.5 157.1h1.9v1.9h-1.9zM181.2 145.4h1.9v1.9h-1.9zM179.9 152.6h1.9v1.9h-1.9zM185.1 145.7h1.9v1.9h-1.9zM188.5 151.1h1.9v1.9h-1.9zM186.8 147.6h1.9v1.9h-1.9zM185.9 148.3h1.9v1.9h-1.9zM183.1 147.9h1.9v1.9h-1.9zM179.8 144.3h1.9v1.9h-1.9zM196.7 148.0h1.9v1.9h-1.9zM182.8 149.2h1.9v1.9h-1.9zM184.0 136.6h1.9v1.9h-1.9zM185.1 152.4h1.9v1.9h-1.9zM190.0 146.9h1.9v1.9h-1.9zM184.2 140.4h1.9v1.9h-1.9zM194.2 149.1h1.9v1.9h-1.9zM184.1 133.6h1.9v1.9h-1.9zM182.3 163.8h1.9v1.9h-1.9zM183.2 147.0h1.9v1.9h-1.9zM189.2 146.5h1.9v1.9h-1.9zM187.1 138.4h1.9v1.9h-1.9zM183.7 158.6h1.9v1.9h-1.9zM185.0 153.1h1.9v1.9h-1.9zM180.8 145.7h1.9v1.9h-1.9zM189.4 154.3h1.9v1.9h-1.9zM183.4 151.4h1.9v1.9h-1.9zM190.0 142.6h1.9v1.9h-1.9zM190.4 141.6h1.9v1.9h-1.9zM184.8 147.4h1.9v1.9h-1.9zM176.4 146.8h1.9v1.9h-1.9zM183.9 137.8h1.9v1.9h-1.9zM186.4 152.5h1.9v1.9h-1.9zM186.5 155.9h1.9v1.9h-1.9zM183.2 138.8h1.9v1.9h-1.9zM195.1 150.1h1.9v1.9h-1.9zM192.5 142.0h1.9v1.9h-1.9zM191.8 149.2h1.9v1.9h-1.9zM191.2 147.7h1.9v1.9h-1.9zM193.6 143.2h1.9v1.9h-1.9zM184.1 137.7h1.9v1.9h-1.9zM193.4 142.6h1.9v1.9h-1.9zM183.7 141.3h1.9v1.9h-1.9zM186.3 139.1h1.9v1.9h-1.9zM187.0 143.4h1.9v1.9h-1.9zM185.9 141.2h1.9v1.9h-1.9zM188.5 144.5h1.9v1.9h-1.9zM188.8 149.1h1.9v1.9h-1.9zM189.8 133.1h1.9v1.9h-1.9zM185.9 142.2h1.9v1.9h-1.9zM191.7 137.1h1.9v1.9h-1.9zM185.2 145.6h1.9v1.9h-1.9zM186.8 154.0h1.9v1.9h-1.9zM186.4 153.9h1.9v1.9h-1.9zM181.9 135.5h1.9v1.9h-1.9zM193.7 150.4h1.9v1.9h-1.9zM190.4 148.3h1.9v1.9h-1.9zM190.4 139.5h1.9v1.9h-1.9zM192.5 144.0h1.9v1.9h-1.9zM192.6 148.1h1.9v1.9h-1.9zM179.6 139.0h1.9v1.9h-1.9zM193.3 146.6h1.9v1.9h-1.9zM186.6 149.1h1.9v1.9h-1.9zM186.4 143.9h1.9v1.9h-1.9zM188.3 152.7h1.9v1.9h-1.9zM198.9 151.5h1.9v1.9h-1.9zM201.6 171.7h1.9v1.9h-1.9zM200.4 163.2h1.9v1.9h-1.9zM188.5 152.6h1.9v1.9h-1.9zM186.4 142.6h1.9v1.9h-1.9zM187.0 143.6h1.9v1.9h-1.9zM199.8 157.1h1.9v1.9h-1.9zM184.2 129.0h1.9v1.9h-1.9zM187.1 146.2h1.9v1.9h-1.9zM179.4 137.9h1.9v1.9h-1.9zM170.6 157.5h1.9v1.9h-1.9zM187.0 180.7h1.9v1.9h-1.9zM187.3 149.3h1.9v1.9h-1.9zM198.3 152.5h1.9v1.9h-1.9zM188.8 146.7h1.9v1.9h-1.9zM183.0 168.2h1.9v1.9h-1.9zM195.0 170.7h1.9v1.9h-1.9zM184.9 151.3h1.9v1.9h-1.9zM180.9 162.1h1.9v1.9h-1.9zM177.1 157.5h1.9v1.9h-1.9zM195.7 167.2h1.9v1.9h-1.9zM180.5 163.5h1.9v1.9h-1.9zM182.1 142.3h1.9v1.9h-1.9zM177.6 164.3h1.9v1.9h-1.9zM199.9 144.2h1.9v1.9h-1.9zM181.8 147.1h1.9v1.9h-1.9zM206.3 162.6h1.9v1.9h-1.9zM183.4 130.4h1.9v1.9h-1.9zM182.5 164.7h1.9v1.9h-1.9zM201.5 147.9h1.9v1.9h-1.9zM182.3 145.1h1.9v1.9h-1.9zM173.4 161.4h1.9v1.9h-1.9zM179.4 163.2h1.9v1.9h-1.9zM174.7 136.4h1.9v1.9h-1.9zM189.7 142.2h1.9v1.9h-1.9zM193.4 151.1h1.9v1.9h-1.9zM178.7 158.2h1.9v1.9h-1.9zM193.8 129.0h1.9v1.9h-1.9zM201.2 156.7h1.9v1.9h-1.9zM193.2 129.6h1.9v1.9h-1.9zM182.1 147.0h1.9v1.9h-1.9zM195.6 134.2h1.9v1.9h-1.9zM180.9 127.7h1.9v1.9h-1.9zM185.7 155.0h1.9v1.9h-1.9zM174.9 144.2h1.9v1.9h-1.9zM191.3 169.2h1.9v1.9h-1.9zM192.5 147.5h1.9v1.9h-1.9zM178.7 140.2h1.9v1.9h-1.9zM182.5 152.7h1.9v1.9h-1.9zM187.1 170.2h1.9v1.9h-1.9zM189.7 138.7h1.9v1.9h-1.9zM199.1 161.9h1.9v1.9h-1.9zM188.3 142.7h1.9v1.9h-1.9zM173.5 139.2h1.9v1.9h-1.9zM194.3 141.8h1.9v1.9h-1.9zM177.6 153.2h1.9v1.9h-1.9zM189.3 158.0h1.9v1.9h-1.9zM192.4 167.2h1.9v1.9h-1.9zM181.2 162.3h1.9v1.9h-1.9zM180.1 159.0h1.9v1.9h-1.9zM188.8 153.8h1.9v1.9h-1.9zM194.8 150.8h1.9v1.9h-1.9zM195.8 161.1h1.9v1.9h-1.9zM188.5 144.5h1.9v1.9h-1.9zM181.8 144.9h1.9v1.9h-1.9zM186.0 150.7h1.9v1.9h-1.9zM209.9 158.3h1.9v1.9h-1.9zM193.3 141.1h1.9v1.9h-1.9zM182.2 147.3h1.9v1.9h-1.9zM188.9 139.1h1.9v1.9h-1.9zM199.6 144.5h1.9v1.9h-1.9zM195.6 124.1h1.9v1.9h-1.9zM187.4 154.2h1.9v1.9h-1.9zM188.9 157.9h1.9v1.9h-1.9zM189.6 152.9h1.9v1.9h-1.9zM173.3 142.8h1.9v1.9h-1.9zM169.9 158.2h1.9v1.9h-1.9zM189.8 148.8h1.9v1.9h-1.9zM181.3 144.3h1.9v1.9h-1.9zM201.3 170.9h1.9v1.9h-1.9zM187.1 165.8h1.9v1.9h-1.9zM175.6 128.7h1.9v1.9h-1.9zM183.9 140.9h1.9v1.9h-1.9zM183.3 153.2h1.9v1.9h-1.9zM210.2 143.4h1.9v1.9h-1.9zM187.9 154.2h1.9v1.9h-1.9zM187.2 161.7h1.9v1.9h-1.9zM200.8 136.7h1.9v1.9h-1.9zM188.7 148.0h1.9v1.9h-1.9zM190.2 133.4h1.9v1.9h-1.9zM174.3 124.4h1.9v1.9h-1.9zM191.4 153.2h1.9v1.9h-1.9zM188.1 123.8h1.9v1.9h-1.9zM184.7 142.3h1.9v1.9h-1.9zM176.9 140.5h1.9v1.9h-1.9zM192.7 157.3h1.9v1.9h-1.9zM187.3 156.9h1.9v1.9h-1.9zM183.0 151.8h1.9v1.9h-1.9zM187.8 157.4h1.9v1.9h-1.9zM187.0 149.4h1.9v1.9h-1.9zM186.5 143.6h1.9v1.9h-1.9zM204.3 156.9h1.9v1.9h-1.9zM190.7 177.4h1.9v1.9h-1.9zM198.0 133.1h1.9v1.9h-1.9zM192.7 160.6h1.9v1.9h-1.9zM201.6 166.1h1.9v1.9h-1.9zM193.3 137.5h1.9v1.9h-1.9zM181.0 154.1h1.9v1.9h-1.9zM191.3 139.3h1.9v1.9h-1.9zM184.6 146.4h1.9v1.9h-1.9zM188.0 154.9h1.9v1.9h-1.9zM185.3 136.8h1.9v1.9h-1.9zM196.8 169.4h1.9v1.9h-1.9zM186.7 162.8h1.9v1.9h-1.9zM190.8 158.6h1.9v1.9h-1.9zM191.1 142.2h1.9v1.9h-1.9zM191.8 162.6h1.9v1.9h-1.9zM180.8 173.6h1.9v1.9h-1.9zM203.2 172.0h1.9v1.9h-1.9zM202.4 159.5h1.9v1.9h-1.9zM185.0 144.1h1.9v1.9h-1.9zM181.4 152.3h1.9v1.9h-1.9zM187.3 158.7h1.9v1.9h-1.9zM172.4 177.6h1.9v1.9h-1.9zM204.6 150.7h1.9v1.9h-1.9zM192.6 156.5h1.9v1.9h-1.9zM189.6 148.6h1.9v1.9h-1.9zM186.6 141.5h1.9v1.9h-1.9zM188.8 150.7h1.9v1.9h-1.9zM189.9 141.2h1.9v1.9h-1.9zM187.8 151.6h1.9v1.9h-1.9zM192.0 138.8h1.9v1.9h-1.9zM190.6 162.3h1.9v1.9h-1.9zM192.0 146.8h1.9v1.9h-1.9zM183.8 148.3h1.9v1.9h-1.9zM193.0 168.9h1.9v1.9h-1.9zM186.3 143.6h1.9v1.9h-1.9zM190.3 153.3h1.9v1.9h-1.9zM180.7 142.5h1.9v1.9h-1.9zM186.7 158.7h1.9v1.9h-1.9zM178.6 139.3h1.9v1.9h-1.9zM191.2 136.9h1.9v1.9h-1.9zM188.3 155.1h1.9v1.9h-1.9zM186.7 139.3h1.9v1.9h-1.9zM187.1 147.2h1.9v1.9h-1.9zM190.0 141.4h1.9v1.9h-1.9zM195.7 131.7h1.9v1.9h-1.9zM186.2 151.1h1.9v1.9h-1.9zM194.7 144.0h1.9v1.9h-1.9zM191.6 144.5h1.9v1.9h-1.9zM193.0 171.0h1.9v1.9h-1.9zM184.5 156.1h1.9v1.9h-1.9zM180.5 162.2h1.9v1.9h-1.9zM196.6 151.4h1.9v1.9h-1.9zM179.0 155.6h1.9v1.9h-1.9zM196.1 163.5h1.9v1.9h-1.9zM193.6 129.9h1.9v1.9h-1.9zM182.4 167.4h1.9v1.9h-1.9zM178.3 164.0h1.9v1.9h-1.9zM201.6 159.8h1.9v1.9h-1.9zM195.9 147.2h1.9v1.9h-1.9zM178.3 149.8h1.9v1.9h-1.9zM186.0 150.5h1.9v1.9h-1.9zM192.7 149.3h1.9v1.9h-1.9zM188.9 155.9h1.9v1.9h-1.9zM187.5 172.2h1.9v1.9h-1.9zM190.8 152.0h1.9v1.9h-1.9zM185.9 143.8h1.9v1.9h-1.9zM197.6 152.7h1.9v1.9h-1.9zM179.4 144.5h1.9v1.9h-1.9zM186.5 145.9h1.9v1.9h-1.9zM195.6 137.6h1.9v1.9h-1.9zM191.2 152.7h1.9v1.9h-1.9zM178.7 151.5h1.9v1.9h-1.9zM186.8 156.8h1.9v1.9h-1.9zM184.1 154.5h1.9v1.9h-1.9zM175.0 138.5h1.9v1.9h-1.9zM193.4 163.0h1.9v1.9h-1.9zM187.4 144.1h1.9v1.9h-1.9zM195.6 126.9h1.9v1.9h-1.9zM181.5 158.7h1.9v1.9h-1.9zM192.4 139.1h1.9v1.9h-1.9zM173.3 167.7h1.9v1.9h-1.9zM188.6 140.7h1.9v1.9h-1.9zM187.9 161.4h1.9v1.9h-1.9zM168.1 163.8h1.9v1.9h-1.9zM193.1 127.1h1.9v1.9h-1.9zM193.3 130.5h1.9v1.9h-1.9zM196.0 155.6h1.9v1.9h-1.9zM204.4 144.0h1.9v1.9h-1.9zM187.5 163.0h1.9v1.9h-1.9zM182.7 142.9h1.9v1.9h-1.9zM184.7 150.2h1.9v1.9h-1.9zM179.4 156.6h1.9v1.9h-1.9zM191.6 151.8h1.9v1.9h-1.9zM200.3 147.2h1.9v1.9h-1.9zM197.3 144.7h1.9v1.9h-1.9zM193.2 128.7h1.9v1.9h-1.9zM189.0 149.0h1.9v1.9h-1.9zM168.0 139.9h1.9v1.9h-1.9zM169.2 139.4h1.9v1.9h-1.9zM154.5 140.0h1.9v1.9h-1.9zM167.6 140.4h1.9v1.9h-1.9zM163.5 142.3h1.9v1.9h-1.9zM178.3 141.7h1.9v1.9h-1.9zM168.1 149.8h1.9v1.9h-1.9zM179.8 147.6h1.9v1.9h-1.9zM181.2 141.4h1.9v1.9h-1.9zM171.0 148.6h1.9v1.9h-1.9zM167.6 142.4h1.9v1.9h-1.9zM175.0 144.9h1.9v1.9h-1.9zM169.8 147.9h1.9v1.9h-1.9zM170.6 146.6h1.9v1.9h-1.9zM180.6 146.3h1.9v1.9h-1.9zM177.9 137.2h1.9v1.9h-1.9zM161.5 139.9h1.9v1.9h-1.9zM175.8 150.5h1.9v1.9h-1.9zM162.2 144.5h1.9v1.9h-1.9zM165.2 139.3h1.9v1.9h-1.9zM169.8 146.5h1.9v1.9h-1.9zM173.7 148.9h1.9v1.9h-1.9zM164.1 147.4h1.9v1.9h-1.9zM179.4 143.3h1.9v1.9h-1.9zM175.8 140.2h1.9v1.9h-1.9zM163.3 141.0h1.9v1.9h-1.9zM166.9 157.5h1.9v1.9h-1.9zM168.1 151.3h1.9v1.9h-1.9zM173.6 144.6h1.9v1.9h-1.9zM177.9 139.1h1.9v1.9h-1.9zM179.3 144.9h1.9v1.9h-1.9zM159.9 146.0h1.9v1.9h-1.9zM176.4 145.3h1.9v1.9h-1.9zM184.7 140.9h1.9v1.9h-1.9zM176.1 146.7h1.9v1.9h-1.9zM177.7 182.8h1.9v1.9h-1.9zM173.8 160.3h1.9v1.9h-1.9zM187.7 162.2h1.9v1.9h-1.9zM183.2 157.2h1.9v1.9h-1.9zM184.5 161.8h1.9v1.9h-1.9zM186.4 158.2h1.9v1.9h-1.9zM187.1 169.6h1.9v1.9h-1.9zM184.4 171.4h1.9v1.9h-1.9zM184.9 160.1h1.9v1.9h-1.9zM166.0 172.3h1.9v1.9h-1.9zM177.4 167.9h1.9v1.9h-1.9zM187.0 154.1h1.9v1.9h-1.9zM178.7 166.5h1.9v1.9h-1.9zM176.6 174.9h1.9v1.9h-1.9zM183.0 164.6h1.9v1.9h-1.9zM177.1 179.3h1.9v1.9h-1.9zM179.4 177.3h1.9v1.9h-1.9zM187.1 155.0h1.9v1.9h-1.9zM176.4 172.0h1.9v1.9h-1.9zM186.4 179.0h1.9v1.9h-1.9zM189.6 181.3h1.9v1.9h-1.9zM181.4 170.1h1.9v1.9h-1.9zM189.4 168.2h1.9v1.9h-1.9zM191.4 157.7h1.9v1.9h-1.9zM188.6 170.4h1.9v1.9h-1.9zM170.2 180.8h1.9v1.9h-1.9zM186.2 172.2h1.9v1.9h-1.9zM176.5 167.8h1.9v1.9h-1.9zM194.6 164.6h1.9v1.9h-1.9zM159.7 164.3h1.9v1.9h-1.9zM175.6 170.8h1.9v1.9h-1.9zM181.2 163.8h1.9v1.9h-1.9zM178.1 181.4h1.9v1.9h-1.9zM173.9 189.6h1.9v1.9h-1.9zM180.2 162.2h1.9v1.9h-1.9zM189.5 177.1h1.9v1.9h-1.9zM176.7 178.7h1.9v1.9h-1.9zM171.1 163.7h1.9v1.9h-1.9zM191.9 169.7h1.9v1.9h-1.9zM174.9 176.6h1.9v1.9h-1.9zM190.4 171.8h1.9v1.9h-1.9zM171.4 168.9h1.9v1.9h-1.9zM186.9 178.9h1.9v1.9h-1.9zM197.0 169.7h1.9v1.9h-1.9zM180.6 171.7h1.9v1.9h-1.9zM192.4 163.5h1.9v1.9h-1.9zM193.1 147.3h1.9v1.9h-1.9zM189.6 165.9h1.9v1.9h-1.9zM187.2 178.2h1.9v1.9h-1.9zM175.7 171.2h1.9v1.9h-1.9zM185.7 177.3h1.9v1.9h-1.9zM177.5 163.1h1.9v1.9h-1.9zM170.5 194.9h1.9v1.9h-1.9zM182.7 170.0h1.9v1.9h-1.9zM173.5 180.4h1.9v1.9h-1.9zM180.3 184.9h1.9v1.9h-1.9zM190.0 172.2h1.9v1.9h-1.9zM189.1 162.0h1.9v1.9h-1.9zM181.7 166.8h1.9v1.9h-1.9zM175.1 172.2h1.9v1.9h-1.9zM183.0 184.9h1.9v1.9h-1.9zM160.5 166.0h1.9v1.9h-1.9zM177.6 167.8h1.9v1.9h-1.9zM187.0 175.6h1.9v1.9h-1.9zM184.2 167.7h1.9v1.9h-1.9zM187.5 175.2h1.9v1.9h-1.9zM171.1 169.6h1.9v1.9h-1.9zM174.4 161.4h1.9v1.9h-1.9zM185.0 172.5h1.9v1.9h-1.9zM184.8 164.1h1.9v1.9h-1.9zM182.6 163.8h1.9v1.9h-1.9zM186.7 178.2h1.9v1.9h-1.9zM196.3 183.4h1.9v1.9h-1.9zM178.4 167.9h1.9v1.9h-1.9zM177.4 174.8h1.9v1.9h-1.9zM197.9 178.4h1.9v1.9h-1.9zM168.6 160.7h1.9v1.9h-1.9zM175.0 176.6h1.9v1.9h-1.9zM184.0 174.7h1.9v1.9h-1.9zM196.5 164.6h1.9v1.9h-1.9zM178.1 189.7h1.9v1.9h-1.9zM186.4 165.0h1.9v1.9h-1.9zM169.8 158.3h1.9v1.9h-1.9zM166.9 172.6h1.9v1.9h-1.9zM184.3 180.9h1.9v1.9h-1.9zM183.0 165.8h1.9v1.9h-1.9zM178.8 189.1h1.9v1.9h-1.9zM171.6 173.6h1.9v1.9h-1.9zM184.2 177.6h1.9v1.9h-1.9zM181.2 176.5h1.9v1.9h-1.9zM143.9 167.5h1.9v1.9h-1.9zM122.2 167.1h1.9v1.9h-1.9zM113.6 166.9h1.9v1.9h-1.9zM124.9 171.1h1.9v1.9h-1.9zM152.7 182.1h1.9v1.9h-1.9zM122.4 175.0h1.9v1.9h-1.9zM135.0 176.6h1.9v1.9h-1.9zM130.4 171.7h1.9v1.9h-1.9zM122.0 161.2h1.9v1.9h-1.9zM144.8 182.0h1.9v1.9h-1.9zM141.3 173.4h1.9v1.9h-1.9zM134.5 164.5h1.9v1.9h-1.9zM99.7 175.6h1.9v1.9h-1.9zM133.4 163.5h1.9v1.9h-1.9zM113.6 181.8h1.9v1.9h-1.9zM99.3 186.6h1.9v1.9h-1.9zM140.9 192.7h1.9v1.9h-1.9zM117.8 168.8h1.9v1.9h-1.9zM121.4 170.6h1.9v1.9h-1.9zM126.4 161.5h1.9v1.9h-1.9zM148.3 161.2h1.9v1.9h-1.9zM121.4 174.5h1.9v1.9h-1.9zM120.9 164.7h1.9v1.9h-1.9zM136.1 165.3h1.9v1.9h-1.9zM108.8 168.0h1.9v1.9h-1.9zM126.3 186.0h1.9v1.9h-1.9zM111.4 178.7h1.9v1.9h-1.9zM116.6 165.4h1.9v1.9h-1.9zM124.4 171.7h1.9v1.9h-1.9zM144.7 186.5h1.9v1.9h-1.9zM119.2 182.3h1.9v1.9h-1.9zM146.9 177.1h1.9v1.9h-1.9zM117.1 178.0h1.9v1.9h-1.9zM128.2 172.5h1.9v1.9h-1.9zM125.4 175.6h1.9v1.9h-1.9zM149.0 180.3h1.9v1.9h-1.9zM126.5 179.0h1.9v1.9h-1.9zM154.7 159.6h1.9v1.9h-1.9zM155.0 155.6h1.9v1.9h-1.9zM139.2 174.9h1.9v1.9h-1.9zM155.2 171.8h1.9v1.9h-1.9zM121.8 161.0h1.9v1.9h-1.9zM108.7 176.7h1.9v1.9h-1.9zM126.0 161.8h1.9v1.9h-1.9zM139.0 161.4h1.9v1.9h-1.9zM122.6 164.4h1.9v1.9h-1.9zM158.1 183.6h1.9v1.9h-1.9zM127.3 153.3h1.9v1.9h-1.9zM134.7 169.7h1.9v1.9h-1.9zM135.9 174.7h1.9v1.9h-1.9zM124.6 178.3h1.9v1.9h-1.9zM144.2 171.1h1.9v1.9h-1.9zM123.1 164.2h1.9v1.9h-1.9zM141.8 158.0h1.9v1.9h-1.9zM127.3 161.5h1.9v1.9h-1.9zM106.3 175.0h1.9v1.9h-1.9zM129.6 169.4h1.9v1.9h-1.9zM144.9 154.1h1.9v1.9h-1.9zM128.9 171.9h1.9v1.9h-1.9zM144.1 158.2h1.9v1.9h-1.9zM142.2 171.2h1.9v1.9h-1.9zM153.0 180.4h1.9v1.9h-1.9zM139.3 190.5h1.9v1.9h-1.9zM130.0 164.8h1.9v1.9h-1.9zM124.2 159.6h1.9v1.9h-1.9zM129.5 150.2h1.9v1.9h-1.9zM128.6 173.3h1.9v1.9h-1.9zM146.9 165.5h1.9v1.9h-1.9zM153.6 162.5h1.9v1.9h-1.9zM127.7 150.2h1.9v1.9h-1.9zM117.1 161.1h1.9v1.9h-1.9zM154.8 174.2h1.9v1.9h-1.9zM111.7 174.2h1.9v1.9h-1.9zM138.0 166.7h1.9v1.9h-1.9zM130.4 166.0h1.9v1.9h-1.9zM121.0 151.7h1.9v1.9h-1.9zM128.5 181.5h1.9v1.9h-1.9zM153.8 166.3h1.9v1.9h-1.9zM117.6 166.9h1.9v1.9h-1.9zM144.9 172.4h1.9v1.9h-1.9zM120.3 172.5h1.9v1.9h-1.9zM126.6 174.0h1.9v1.9h-1.9zM123.2 154.6h1.9v1.9h-1.9zM131.0 176.4h1.9v1.9h-1.9zM111.6 168.0h1.9v1.9h-1.9zM144.6 165.3h1.9v1.9h-1.9zM119.2 188.8h1.9v1.9h-1.9zM143.7 179.0h1.9v1.9h-1.9zM114.3 184.9h1.9v1.9h-1.9zM102.6 164.0h1.9v1.9h-1.9zM142.2 182.0h1.9v1.9h-1.9zM114.6 162.5h1.9v1.9h-1.9zM133.3 150.2h1.9v1.9h-1.9zM140.6 174.4h1.9v1.9h-1.9zM122.6 174.2h1.9v1.9h-1.9zM142.8 172.0h1.9v1.9h-1.9zM138.6 183.7h1.9v1.9h-1.9zM122.1 170.6h1.9v1.9h-1.9zM121.4 179.0h1.9v1.9h-1.9zM123.3 173.6h1.9v1.9h-1.9zM132.3 169.6h1.9v1.9h-1.9zM158.3 168.2h1.9v1.9h-1.9zM153.3 177.0h1.9v1.9h-1.9zM151.7 167.4h1.9v1.9h-1.9zM145.3 176.3h1.9v1.9h-1.9zM119.9 171.6h1.9v1.9h-1.9zM127.9 168.7h1.9v1.9h-1.9zM151.4 162.0h1.9v1.9h-1.9zM102.4 152.2h1.9v1.9h-1.9zM122.6 162.8h1.9v1.9h-1.9zM130.2 174.5h1.9v1.9h-1.9zM158.9 172.0h1.9v1.9h-1.9zM137.6 161.9h1.9v1.9h-1.9zM139.5 182.1h1.9v1.9h-1.9zM152.0 150.2h1.9v1.9h-1.9zM144.6 184.3h1.9v1.9h-1.9zM143.5 154.6h1.9v1.9h-1.9zM125.0 174.7h1.9v1.9h-1.9zM136.8 161.2h1.9v1.9h-1.9zM115.4 178.3h1.9v1.9h-1.9zM108.1 182.8h1.9v1.9h-1.9zM130.3 171.9h1.9v1.9h-1.9zM108.2 163.3h1.9v1.9h-1.9zM141.3 154.8h1.9v1.9h-1.9zM163.9 155.5h1.9v1.9h-1.9zM110.0 169.4h1.9v1.9h-1.9zM137.9 176.1h1.9v1.9h-1.9zM123.9 167.0h1.9v1.9h-1.9zM126.1 163.5h1.9v1.9h-1.9zM87.9 178.2h1.9v1.9h-1.9zM134.1 170.5h1.9v1.9h-1.9zM119.7 171.4h1.9v1.9h-1.9zM129.8 168.3h1.9v1.9h-1.9zM148.1 152.5h1.9v1.9h-1.9zM134.1 158.8h1.9v1.9h-1.9zM124.8 183.4h1.9v1.9h-1.9zM112.3 168.0h1.9v1.9h-1.9zM120.3 178.1h1.9v1.9h-1.9zM114.0 152.8h1.9v1.9h-1.9zM138.4 165.6h1.9v1.9h-1.9zM124.8 179.4h1.9v1.9h-1.9zM115.5 165.4h1.9v1.9h-1.9zM132.4 173.0h1.9v1.9h-1.9zM121.6 178.9h1.9v1.9h-1.9zM166.6 165.1h1.9v1.9h-1.9zM160.5 148.7h1.9v1.9h-1.9zM153.0 165.7h1.9v1.9h-1.9zM132.2 165.7h1.9v1.9h-1.9zM119.6 156.7h1.9v1.9h-1.9zM123.6 181.4h1.9v1.9h-1.9zM148.6 165.7h1.9v1.9h-1.9zM121.4 162.3h1.9v1.9h-1.9zM110.4 186.3h1.9v1.9h-1.9zM140.8 170.1h1.9v1.9h-1.9zM122.0 159.2h1.9v1.9h-1.9zM151.5 176.5h1.9v1.9h-1.9zM114.5 178.5h1.9v1.9h-1.9zM111.9 175.2h1.9v1.9h-1.9zM114.3 165.0h1.9v1.9h-1.9zM138.1 173.2h1.9v1.9h-1.9zM146.5 161.0h1.9v1.9h-1.9zM155.8 181.9h1.9v1.9h-1.9zM129.8 173.5h1.9v1.9h-1.9zM117.3 167.5h1.9v1.9h-1.9zM108.4 169.9h1.9v1.9h-1.9zM133.3 181.9h1.9v1.9h-1.9zM145.5 176.8h1.9v1.9h-1.9zM124.1 166.8h1.9v1.9h-1.9zM124.4 171.1h1.9v1.9h-1.9zM98.5 176.4h1.9v1.9h-1.9zM104.4 164.1h1.9v1.9h-1.9zM130.4 164.1h1.9v1.9h-1.9zM157.1 168.1h1.9v1.9h-1.9zM155.7 180.3h1.9v1.9h-1.9zM121.9 172.8h1.9v1.9h-1.9zM151.2 165.8h1.9v1.9h-1.9zM131.4 163.6h1.9v1.9h-1.9zM131.0 165.6h1.9v1.9h-1.9zM131.3 178.6h1.9v1.9h-1.9zM152.7 170.3h1.9v1.9h-1.9zM133.3 177.2h1.9v1.9h-1.9zM125.3 158.8h1.9v1.9h-1.9zM148.1 160.0h1.9v1.9h-1.9zM145.2 159.7h1.9v1.9h-1.9zM159.9 159.0h1.9v1.9h-1.9zM143.9 183.4h1.9v1.9h-1.9zM114.3 183.3h1.9v1.9h-1.9zM116.6 152.1h1.9v1.9h-1.9zM141.8 175.7h1.9v1.9h-1.9zM126.7 144.8h1.9v1.9h-1.9zM129.1 166.1h1.9v1.9h-1.9zM123.8 166.2h1.9v1.9h-1.9zM100.8 163.6h1.9v1.9h-1.9zM159.4 183.8h1.9v1.9h-1.9zM124.1 162.2h1.9v1.9h-1.9zM136.5 179.2h1.9v1.9h-1.9zM141.8 157.8h1.9v1.9h-1.9zM132.6 170.3h1.9v1.9h-1.9zM153.5 180.5h1.9v1.9h-1.9zM138.5 180.7h1.9v1.9h-1.9zM123.5 183.8h1.9v1.9h-1.9zM123.0 172.8h1.9v1.9h-1.9zM145.0 160.2h1.9v1.9h-1.9zM118.5 152.1h1.9v1.9h-1.9zM132.7 168.5h1.9v1.9h-1.9zM124.7 173.8h1.9v1.9h-1.9zM95.5 168.8h1.9v1.9h-1.9zM131.4 166.4h1.9v1.9h-1.9zM143.0 185.8h1.9v1.9h-1.9zM122.7 160.0h1.9v1.9h-1.9zM120.1 169.9h1.9v1.9h-1.9zM139.6 160.7h1.9v1.9h-1.9zM146.3 159.2h1.9v1.9h-1.9zM143.5 173.1h1.9v1.9h-1.9zM137.6 189.7h1.9v1.9h-1.9zM125.7 167.4h1.9v1.9h-1.9zM137.8 177.3h1.9v1.9h-1.9zM108.2 171.6h1.9v1.9h-1.9zM117.9 175.1h1.9v1.9h-1.9zM152.4 169.5h1.9v1.9h-1.9zM128.3 170.8h1.9v1.9h-1.9zM81.8 176.4h1.9v1.9h-1.9zM139.2 170.6h1.9v1.9h-1.9zM123.5 162.0h1.9v1.9h-1.9zM127.1 180.6h1.9v1.9h-1.9zM128.3 181.9h1.9v1.9h-1.9zM88.0 164.6h1.9v1.9h-1.9zM134.5 168.9h1.9v1.9h-1.9zM102.9 162.6h1.9v1.9h-1.9zM150.4 156.6h1.9v1.9h-1.9zM113.8 158.5h1.9v1.9h-1.9zM121.0 175.2h1.9v1.9h-1.9zM139.7 149.5h1.9v1.9h-1.9zM153.8 163.3h1.9v1.9h-1.9zM120.4 185.0h1.9v1.9h-1.9zM128.7 157.1h1.9v1.9h-1.9zM119.6 162.0h1.9v1.9h-1.9zM113.5 165.8h1.9v1.9h-1.9zM144.3 172.4h1.9v1.9h-1.9zM107.5 195.8h1.9v1.9h-1.9zM113.8 170.1h1.9v1.9h-1.9zM130.5 176.3h1.9v1.9h-1.9zM124.6 173.4h1.9v1.9h-1.9zM164.4 169.9h1.9v1.9h-1.9zM112.3 172.2h1.9v1.9h-1.9zM116.9 165.4h1.9v1.9h-1.9zM133.1 172.2h1.9v1.9h-1.9zM125.4 177.1h1.9v1.9h-1.9zM126.9 156.5h1.9v1.9h-1.9zM144.3 165.5h1.9v1.9h-1.9zM160.5 173.9h1.9v1.9h-1.9zM112.6 162.2h1.9v1.9h-1.9zM141.1 185.6h1.9v1.9h-1.9zM128.3 179.5h1.9v1.9h-1.9zM132.4 182.2h1.9v1.9h-1.9zM111.9 171.1h1.9v1.9h-1.9zM159.2 165.0h1.9v1.9h-1.9zM122.7 157.7h1.9v1.9h-1.9zM117.4 164.8h1.9v1.9h-1.9zM148.2 163.3h1.9v1.9h-1.9zM130.8 162.8h1.9v1.9h-1.9zM142.4 182.1h1.9v1.9h-1.9zM144.9 162.7h1.9v1.9h-1.9zM149.8 184.9h1.9v1.9h-1.9zM142.3 159.3h1.9v1.9h-1.9zM154.1 182.4h1.9v1.9h-1.9zM127.4 161.0h1.9v1.9h-1.9zM118.7 172.6h1.9v1.9h-1.9zM157.9 175.6h1.9v1.9h-1.9zM160.6 163.2h1.9v1.9h-1.9zM126.6 178.7h1.9v1.9h-1.9zM145.0 168.8h1.9v1.9h-1.9zM146.7 166.8h1.9v1.9h-1.9zM111.3 169.0h1.9v1.9h-1.9zM110.6 175.2h1.9v1.9h-1.9zM127.1 171.3h1.9v1.9h-1.9zM142.1 164.5h1.9v1.9h-1.9zM134.4 157.4h1.9v1.9h-1.9zM160.7 173.4h1.9v1.9h-1.9zM164.3 158.6h1.9v1.9h-1.9zM143.0 178.0h1.9v1.9h-1.9zM126.8 159.7h1.9v1.9h-1.9zM116.9 161.1h1.9v1.9h-1.9zM151.7 159.6h1.9v1.9h-1.9zM154.4 169.3h1.9v1.9h-1.9zM138.7 174.1h1.9v1.9h-1.9zM139.6 176.1h1.9v1.9h-1.9zM142.3 166.6h1.9v1.9h-1.9zM150.2 164.5h1.9v1.9h-1.9zM148.6 179.1h1.9v1.9h-1.9zM152.2 166.0h1.9v1.9h-1.9zM152.0 185.3h1.9v1.9h-1.9zM133.8 165.1h1.9v1.9h-1.9zM137.8 184.3h1.9v1.9h-1.9zM115.5 157.3h1.9v1.9h-1.9zM135.1 176.0h1.9v1.9h-1.9zM152.1 167.5h1.9v1.9h-1.9zM164.4 163.6h1.9v1.9h-1.9zM151.1 159.6h1.9v1.9h-1.9zM109.6 160.9h1.9v1.9h-1.9zM111.4 171.6h1.9v1.9h-1.9zM139.6 162.3h1.9v1.9h-1.9zM161.6 167.6h1.9v1.9h-1.9zM116.5 162.1h1.9v1.9h-1.9zM150.1 183.7h1.9v1.9h-1.9zM117.2 157.8h1.9v1.9h-1.9zM152.4 164.0h1.9v1.9h-1.9zM164.0 171.5h1.9v1.9h-1.9zM144.3 167.0h1.9v1.9h-1.9zM153.6 170.3h1.9v1.9h-1.9zM144.4 196.3h1.9v1.9h-1.9zM173.5 186.2h1.9v1.9h-1.9zM174.2 181.3h1.9v1.9h-1.9zM135.8 187.7h1.9v1.9h-1.9zM172.6 180.2h1.9v1.9h-1.9zM132.4 188.2h1.9v1.9h-1.9zM174.2 169.8h1.9v1.9h-1.9zM158.6 183.3h1.9v1.9h-1.9zM155.9 186.7h1.9v1.9h-1.9zM158.0 182.4h1.9v1.9h-1.9zM158.1 159.2h1.9v1.9h-1.9zM160.5 189.0h1.9v1.9h-1.9zM171.3 193.3h1.9v1.9h-1.9zM164.0 168.6h1.9v1.9h-1.9zM157.2 154.5h1.9v1.9h-1.9zM154.6 184.7h1.9v1.9h-1.9zM129.7 177.1h1.9v1.9h-1.9zM167.4 189.2h1.9v1.9h-1.9zM145.3 168.0h1.9v1.9h-1.9zM133.3 164.1h1.9v1.9h-1.9zM163.7 197.1h1.9v1.9h-1.9zM142.5 189.7h1.9v1.9h-1.9zM162.4 169.7h1.9v1.9h-1.9zM184.7 148.1h1.9v1.9h-1.9zM156.1 177.3h1.9v1.9h-1.9zM183.9 194.2h1.9v1.9h-1.9zM185.6 176.4h1.9v1.9h-1.9zM169.4 189.6h1.9v1.9h-1.9zM163.5 178.8h1.9v1.9h-1.9zM154.7 170.6h1.9v1.9h-1.9zM141.5 195.8h1.9v1.9h-1.9zM151.4 152.8h1.9v1.9h-1.9zM160.3 174.6h1.9v1.9h-1.9zM159.2 194.4h1.9v1.9h-1.9zM155.7 172.2h1.9v1.9h-1.9zM147.6 174.8h1.9v1.9h-1.9zM151.5 177.2h1.9v1.9h-1.9zM196.5 179.2h1.9v1.9h-1.9zM146.2 195.6h1.9v1.9h-1.9zM167.9 183.7h1.9v1.9h-1.9zM166.0 183.8h1.9v1.9h-1.9zM165.5 190.1h1.9v1.9h-1.9zM169.7 189.4h1.9v1.9h-1.9zM150.7 175.0h1.9v1.9h-1.9zM147.8 185.2h1.9v1.9h-1.9zM167.5 170.0h1.9v1.9h-1.9zM172.6 163.1h1.9v1.9h-1.9zM155.8 181.8h1.9v1.9h-1.9zM156.5 179.1h1.9v1.9h-1.9zM171.9 178.5h1.9v1.9h-1.9zM143.1 182.7h1.9v1.9h-1.9zM155.8 176.2h1.9v1.9h-1.9zM149.8 160.2h1.9v1.9h-1.9zM141.2 171.2h1.9v1.9h-1.9zM143.5 145.9h1.9v1.9h-1.9zM171.5 162.6h1.9v1.9h-1.9zM147.8 180.7h1.9v1.9h-1.9zM126.5 189.4h1.9v1.9h-1.9zM147.3 182.1h1.9v1.9h-1.9zM150.9 178.3h1.9v1.9h-1.9zM158.3 175.0h1.9v1.9h-1.9zM133.9 159.3h1.9v1.9h-1.9zM156.5 190.1h1.9v1.9h-1.9zM150.1 180.7h1.9v1.9h-1.9zM159.1 180.2h1.9v1.9h-1.9zM169.6 158.9h1.9v1.9h-1.9zM160.5 173.1h1.9v1.9h-1.9zM153.0 165.9h1.9v1.9h-1.9zM147.0 164.0h1.9v1.9h-1.9zM143.1 201.9h1.9v1.9h-1.9zM178.5 175.1h1.9v1.9h-1.9zM166.4 164.5h1.9v1.9h-1.9zM121.8 155.5h1.9v1.9h-1.9zM158.8 190.4h1.9v1.9h-1.9zM156.5 164.3h1.9v1.9h-1.9zM153.9 164.3h1.9v1.9h-1.9zM139.3 172.5h1.9v1.9h-1.9zM151.9 166.3h1.9v1.9h-1.9zM145.8 165.0h1.9v1.9h-1.9zM160.0 189.9h1.9v1.9h-1.9zM154.3 199.0h1.9v1.9h-1.9zM136.5 177.9h1.9v1.9h-1.9zM142.3 173.3h1.9v1.9h-1.9zM158.3 181.0h1.9v1.9h-1.9zM171.3 169.1h1.9v1.9h-1.9zM141.3 173.0h1.9v1.9h-1.9zM160.7 167.5h1.9v1.9h-1.9zM168.3 193.0h1.9v1.9h-1.9zM139.0 178.9h1.9v1.9h-1.9zM169.9 154.4h1.9v1.9h-1.9zM159.6 172.6h1.9v1.9h-1.9zM139.0 189.1h1.9v1.9h-1.9zM159.8 169.9h1.9v1.9h-1.9zM162.6 181.9h1.9v1.9h-1.9zM166.7 181.2h1.9v1.9h-1.9zM162.2 162.4h1.9v1.9h-1.9zM151.7 176.4h1.9v1.9h-1.9zM121.9 197.9h1.9v1.9h-1.9zM152.2 163.7h1.9v1.9h-1.9zM134.0 177.7h1.9v1.9h-1.9zM157.4 168.7h1.9v1.9h-1.9zM151.7 165.5h1.9v1.9h-1.9zM147.5 173.9h1.9v1.9h-1.9zM148.8 182.3h1.9v1.9h-1.9zM155.2 176.4h1.9v1.9h-1.9zM162.1 188.6h1.9v1.9h-1.9zM164.6 177.4h1.9v1.9h-1.9zM154.9 166.4h1.9v1.9h-1.9zM152.7 182.3h1.9v1.9h-1.9zM159.9 170.8h1.9v1.9h-1.9zM140.1 158.6h1.9v1.9h-1.9zM161.1 186.0h1.9v1.9h-1.9zM161.7 160.3h1.9v1.9h-1.9zM154.3 177.4h1.9v1.9h-1.9zM145.4 178.7h1.9v1.9h-1.9zM154.5 166.1h1.9v1.9h-1.9zM141.3 183.7h1.9v1.9h-1.9zM161.5 165.5h1.9v1.9h-1.9zM88.1 188.4h1.9v1.9h-1.9zM99.1 174.4h1.9v1.9h-1.9zM105.9 174.6h1.9v1.9h-1.9zM87.8 190.8h1.9v1.9h-1.9zM93.7 182.0h1.9v1.9h-1.9zM95.3 166.3h1.9v1.9h-1.9zM86.9 175.7h1.9v1.9h-1.9zM104.6 166.3h1.9v1.9h-1.9zM104.3 180.6h1.9v1.9h-1.9zM87.4 181.1h1.9v1.9h-1.9zM98.9 167.5h1.9v1.9h-1.9zM80.5 182.2h1.9v1.9h-1.9zM87.4 183.1h1.9v1.9h-1.9zM82.0 176.3h1.9v1.9h-1.9zM89.5 160.7h1.9v1.9h-1.9zM93.4 180.0h1.9v1.9h-1.9zM91.2 164.2h1.9v1.9h-1.9zM96.4 157.6h1.9v1.9h-1.9zM98.6 183.7h1.9v1.9h-1.9zM106.4 188.3h1.9v1.9h-1.9zM97.4 181.1h1.9v1.9h-1.9zM95.2 162.5h1.9v1.9h-1.9zM105.0 184.1h1.9v1.9h-1.9zM93.1 164.6h1.9v1.9h-1.9zM105.1 184.2h1.9v1.9h-1.9zM86.9 185.8h1.9v1.9h-1.9zM107.9 177.7h1.9v1.9h-1.9zM97.7 173.2h1.9v1.9h-1.9zM90.7 190.5h1.9v1.9h-1.9zM115.9 179.4h1.9v1.9h-1.9zM94.2 187.2h1.9v1.9h-1.9zM92.9 186.5h1.9v1.9h-1.9zM100.6 166.2h1.9v1.9h-1.9zM87.7 177.1h1.9v1.9h-1.9zM100.7 181.2h1.9v1.9h-1.9zM103.4 162.0h1.9v1.9h-1.9zM98.4 170.7h1.9v1.9h-1.9zM95.7 181.7h1.9v1.9h-1.9zM88.4 175.3h1.9v1.9h-1.9zM87.1 181.1h1.9v1.9h-1.9zM150.9 145.4h1.9v1.9h-1.9zM124.0 144.3h1.9v1.9h-1.9zM174.4 152.6h1.9v1.9h-1.9zM132.0 154.1h1.9v1.9h-1.9zM147.3 146.3h1.9v1.9h-1.9zM132.6 149.4h1.9v1.9h-1.9zM129.1 153.1h1.9v1.9h-1.9zM159.7 148.6h1.9v1.9h-1.9zM166.2 147.6h1.9v1.9h-1.9zM175.4 150.2h1.9v1.9h-1.9zM141.1 153.0h1.9v1.9h-1.9zM140.4 153.1h1.9v1.9h-1.9zM154.7 139.8h1.9v1.9h-1.9zM115.0 150.2h1.9v1.9h-1.9zM151.7 147.3h1.9v1.9h-1.9zM149.3 138.6h1.9v1.9h-1.9zM166.0 143.0h1.9v1.9h-1.9zM157.2 154.9h1.9v1.9h-1.9zM130.6 151.3h1.9v1.9h-1.9zM120.2 140.2h1.9v1.9h-1.9zM174.3 154.0h1.9v1.9h-1.9zM116.7 151.4h1.9v1.9h-1.9zM164.9 147.1h1.9v1.9h-1.9zM156.1 152.5h1.9v1.9h-1.9zM128.0 144.9h1.9v1.9h-1.9zM120.8 148.2h1.9v1.9h-1.9zM114.0 154.2h1.9v1.9h-1.9zM168.5 152.8h1.9v1.9h-1.9zM130.6 153.9h1.9v1.9h-1.9zM132.3 144.5h1.9v1.9h-1.9zM128.0 86.4h1.9v1.9h-1.9zM129.6 112.7h1.9v1.9h-1.9zM197.5 112.0h1.9v1.9h-1.9zM187.4 117.0h1.9v1.9h-1.9zM123.0 123.0h1.9v1.9h-1.9zM139.0 125.0h1.9v1.9h-1.9zM146.0 122.0h1.9v1.9h-1.9zM113.0 130.0h1.9v1.9h-1.9zM70.0 185.0h1.9v1.9h-1.9zM69.0 170.0h1.9v1.9h-1.9zM72.0 165.0h1.9v1.9h-1.9z" fill="#000"/>
<path d="M367.6 119.4h1.9v1.9h-1.9zM376.9 116.9h1.9v1.9h-1.9zM373.7 116.8h1.9v1.9h-1.9zM377.7 95.4h1.9v1.9h-1.9zM370.1 123.1h1.9v1.9h-1.9zM364.0 131.1h1.9v1.9h-1.9zM373.0 133.6h1.9v1.9h-1.9zM378.2 127.6h1.9v1.9h-1.9zM370.5 111.2h1.9v1.9h-1.9zM370.0 117.1h1.9v1.9h-1.9zM373.2 117.1h1.9v1.9h-1.9zM392.8 106.4h1.9v1.9h-1.9zM379.7 117.0h1.9v1.9h-1.9zM369.8 130.3h1.9v1.9h-1.9zM371.5 110.0h1.9v1.9h-1.9zM374.4 119.7h1.9v1.9h-1.9zM357.2 123.4h1.9v1.9h-1.9zM364.2 114.5h1.9v1.9h-1.9zM374.9 124.3h1.9v1.9h-1.9zM369.5 142.0h1.9v1.9h-1.9zM374.4 115.7h1.9v1.9h-1.9zM373.1 120.4h1.9v1.9h-1.9zM356.2 106.6h1.9v1.9h-1.9zM361.8 141.0h1.9v1.9h-1.9zM370.2 118.9h1.9v1.9h-1.9zM367.6 130.8h1.9v1.9h-1.9zM371.7 137.6h1.9v1.9h-1.9zM377.0 137.1h1.9v1.9h-1.9zM370.7 125.0h1.9v1.9h-1.9zM368.5 119.9h1.9v1.9h-1.9zM359.5 116.0h1.9v1.9h-1.9zM364.9 115.3h1.9v1.9h-1.9zM379.9 124.0h1.9v1.9h-1.9zM380.0 129.6h1.9v1.9h-1.9zM377.9 131.0h1.9v1.9h-1.9zM367.3 129.1h1.9v1.9h-1.9zM369.3 116.5h1.9v1.9h-1.9zM379.8 141.9h1.9v1.9h-1.9zM364.7 137.9h1.9v1.9h-1.9zM377.3 113.5h1.9v1.9h-1.9zM373.4 125.0h1.9v1.9h-1.9zM374.1 118.1h1.9v1.9h-1.9zM362.6 121.8h1.9v1.9h-1.9zM377.5 128.9h1.9v1.9h-1.9zM376.1 131.9h1.9v1.9h-1.9zM364.6 121.1h1.9v1.9h-1.9zM373.9 130.9h1.9v1.9h-1.9zM372.6 126.4h1.9v1.9h-1.9zM372.4 141.3h1.9v1.9h-1.9zM356.4 121.3h1.9v1.9h-1.9zM388.7 123.7h1.9v1.9h-1.9zM358.8 122.8h1.9v1.9h-1.9zM361.6 115.1h1.9v1.9h-1.9zM373.1 137.7h1.9v1.9h-1.9zM374.7 127.8h1.9v1.9h-1.9zM378.6 123.4h1.9v1.9h-1.9zM365.6 120.6h1.9v1.9h-1.9zM373.8 118.9h1.9v1.9h-1.9zM366.9 118.1h1.9v1.9h-1.9zM361.1 111.8h1.9v1.9h-1.9zM370.9 118.1h1.9v1.9h-1.9zM371.8 134.7h1.9v1.9h-1.9zM373.6 121.2h1.9v1.9h-1.9zM363.4 111.3h1.9v1.9h-1.9zM374.1 113.3h1.9v1.9h-1.9zM374.5 111.4h1.9v1.9h-1.9zM372.4 120.8h1.9v1.9h-1.9zM378.4 117.8h1.9v1.9h-1.9zM368.9 123.8h1.9v1.9h-1.9zM371.9 137.4h1.9v1.9h-1.9zM369.7 116.4h1.9v1.9h-1.9zM369.3 126.0h1.9v1.9h-1.9zM373.1 128.0h1.9v1.9h-1.9zM361.9 144.9h1.9v1.9h-1.9zM384.2 121.2h1.9v1.9h-1.9zM363.1 123.0h1.9v1.9h-1.9zM374.4 100.4h1.9v1.9h-1.9zM371.6 107.6h1.9v1.9h-1.9zM374.7 134.5h1.9v1.9h-1.9zM378.7 107.3h1.9v1.9h-1.9zM381.1 130.0h1.9v1.9h-1.9zM369.0 126.2h1.9v1.9h-1.9zM382.0 118.4h1.9v1.9h-1.9zM371.4 116.2h1.9v1.9h-1.9zM379.5 101.2h1.9v1.9h-1.9zM381.3 112.4h1.9v1.9h-1.9zM377.9 106.2h1.9v1.9h-1.9zM365.0 115.9h1.9v1.9h-1.9zM377.2 106.2h1.9v1.9h-1.9zM375.7 115.5h1.9v1.9h-1.9zM380.1 118.6h1.9v1.9h-1.9zM374.9 119.9h1.9v1.9h-1.9zM383.9 118.1h1.9v1.9h-1.9zM371.3 140.2h1.9v1.9h-1.9zM372.0 128.0h1.9v1.9h-1.9zM366.4 123.4h1.9v1.9h-1.9zM355.8 122.5h1.9v1.9h-1.9zM367.0 107.3h1.9v1.9h-1.9zM361.7 132.3h1.9v1.9h-1.9zM374.5 107.2h1.9v1.9h-1.9zM384.1 114.9h1.9v1.9h-1.9zM368.9 123.8h1.9v1.9h-1.9zM363.6 106.2h1.9v1.9h-1.9zM366.3 132.6h1.9v1.9h-1.9zM378.1 106.6h1.9v1.9h-1.9zM379.8 121.8h1.9v1.9h-1.9zM375.0 122.0h1.9v1.9h-1.9zM374.4 112.1h1.9v1.9h-1.9zM365.2 114.9h1.9v1.9h-1.9zM368.9 127.3h1.9v1.9h-1.9zM363.1 136.5h1.9v1.9h-1.9zM367.1 116.0h1.9v1.9h-1.9zM376.4 125.6h1.9v1.9h-1.9zM369.2 111.4h1.9v1.9h-1.9zM364.6 106.4h1.9v1.9h-1.9zM379.4 131.7h1.9v1.9h-1.9zM384.4 126.2h1.9v1.9h-1.9zM373.8 128.6h1.9v1.9h-1.9zM378.1 119.1h1.9v1.9h-1.9zM373.9 141.8h1.9v1.9h-1.9zM359.8 108.2h1.9v1.9h-1.9zM364.8 128.6h1.9v1.9h-1.9zM379.7 118.3h1.9v1.9h-1.9zM376.2 121.0h1.9v1.9h-1.9zM373.6 116.4h1.9v1.9h-1.9zM371.3 121.5h1.9v1.9h-1.9zM379.3 142.6h1.9v1.9h-1.9zM358.9 126.5h1.9v1.9h-1.9zM371.5 130.6h1.9v1.9h-1.9zM378.9 128.9h1.9v1.9h-1.9zM377.1 112.5h1.9v1.9h-1.9zM359.7 137.3h1.9v1.9h-1.9zM379.9 112.5h1.9v1.9h-1.9zM380.4 127.8h1.9v1.9h-1.9zM354.5 130.0h1.9v1.9h-1.9zM364.7 132.5h1.9v1.9h-1.9zM366.8 114.5h1.9v1.9h-1.9zM360.8 119.5h1.9v1.9h-1.9zM378.6 115.2h1.9v1.9h-1.9zM358.6 141.7h1.9v1.9h-1.9zM384.3 128.0h1.9v1.9h-1.9zM367.8 110.1h1.9v1.9h-1.9zM360.1 126.8h1.9v1.9h-1.9zM380.5 111.5h1.9v1.9h-1.9zM371.5 118.9h1.9v1.9h-1.9zM369.7 126.2h1.9v1.9h-1.9zM386.0 115.5h1.9v1.9h-1.9zM377.4 131.8h1.9v1.9h-1.9zM369.5 120.1h1.9v1.9h-1.9zM362.2 131.7h1.9v1.9h-1.9zM367.8 115.3h1.9v1.9h-1.9zM372.0 113.4h1.9v1.9h-1.9zM364.3 118.7h1.9v1.9h-1.9zM381.8 119.6h1.9v1.9h-1.9zM375.2 107.6h1.9v1.9h-1.9zM358.0 138.7h1.9v1.9h-1.9zM368.7 107.0h1.9v1.9h-1.9zM370.8 127.2h1.9v1.9h-1.9zM359.5 113.2h1.9v1.9h-1.9zM373.3 112.8h1.9v1.9h-1.9zM377.0 130.6h1.9v1.9h-1.9zM374.6 117.4h1.9v1.9h-1.9zM371.2 115.5h1.9v1.9h-1.9zM370.6 124.5h1.9v1.9h-1.9zM369.4 130.7h1.9v1.9h-1.9zM389.5 116.3h1.9v1.9h-1.9zM373.9 129.3h1.9v1.9h-1.9zM376.0 119.2h1.9v1.9h-1.9zM368.2 131.0h1.9v1.9h-1.9zM375.8 126.3h1.9v1.9h-1.9zM365.9 127.5h1.9v1.9h-1.9zM377.0 119.7h1.9v1.9h-1.9zM376.0 142.1h1.9v1.9h-1.9zM358.4 127.2h1.9v1.9h-1.9zM363.4 108.6h1.9v1.9h-1.9zM369.9 126.7h1.9v1.9h-1.9zM371.9 110.5h1.9v1.9h-1.9zM361.5 116.2h1.9v1.9h-1.9zM371.6 113.6h1.9v1.9h-1.9zM361.0 138.1h1.9v1.9h-1.9zM365.7 120.0h1.9v1.9h-1.9zM367.7 116.0h1.9v1.9h-1.9zM371.8 118.7h1.9v1.9h-1.9zM375.8 110.3h1.9v1.9h-1.9zM361.1 140.0h1.9v1.9h-1.9zM371.0 128.8h1.9v1.9h-1.9zM379.7 126.8h1.9v1.9h-1.9zM371.8 106.7h1.9v1.9h-1.9zM360.3 130.8h1.9v1.9h-1.9zM376.2 126.9h1.9v1.9h-1.9zM359.9 101.3h1.9v1.9h-1.9zM364.1 110.3h1.9v1.9h-1.9zM372.6 111.8h1.9v1.9h-1.9zM382.5 115.6h1.9v1.9h-1.9zM367.6 129.7h1.9v1.9h-1.9zM373.8 113.0h1.9v1.9h-1.9zM377.2 139.8h1.9v1.9h-1.9zM362.9 119.1h1.9v1.9h-1.9zM364.0 103.0h1.9v1.9h-1.9zM375.9 128.1h1.9v1.9h-1.9zM378.3 125.6h1.9v1.9h-1.9zM357.4 121.2h1.9v1.9h-1.9zM366.8 110.3h1.9v1.9h-1.9zM363.8 128.8h1.9v1.9h-1.9zM369.4 140.2h1.9v1.9h-1.9zM374.8 103.3h1.9v1.9h-1.9zM377.8 133.4h1.9v1.9h-1.9zM371.7 110.0h1.9v1.9h-1.9zM383.9 109.0h1.9v1.9h-1.9zM370.9 103.3h1.9v1.9h-1.9zM362.7 105.3h1.9v1.9h-1.9zM379.1 132.7h1.9v1.9h-1.9zM368.7 108.6h1.9v1.9h-1.9zM371.1 125.1h1.9v1.9h-1.9zM360.8 110.4h1.9v1.9h-1.9zM370.8 128.2h1.9v1.9h-1.9zM372.0 125.8h1.9v1.9h-1.9zM362.7 97.7h1.9v1.9h-1.9zM373.7 112.7h1.9v1.9h-1.9zM370.6 117.9h1.9v1.9h-1.9zM374.9 114.1h1.9v1.9h-1.9zM381.6 121.8h1.9v1.9h-1.9zM375.2 127.5h1.9v1.9h-1.9zM378.8 125.4h1.9v1.9h-1.9zM359.2 115.5h1.9v1.9h-1.9zM384.6 126.0h1.9v1.9h-1.9zM375.4 126.0h1.9v1.9h-1.9zM367.0 115.0h1.9v1.9h-1.9zM366.9 132.6h1.9v1.9h-1.9zM374.1 138.6h1.9v1.9h-1.9zM375.0 139.6h1.9v1.9h-1.9zM374.7 110.2h1.9v1.9h-1.9zM383.8 124.7h1.9v1.9h-1.9zM379.9 123.6h1.9v1.9h-1.9zM369.2 123.1h1.9v1.9h-1.9zM363.6 110.0h1.9v1.9h-1.9zM365.2 116.5h1.9v1.9h-1.9zM361.9 120.5h1.9v1.9h-1.9zM373.6 141.0h1.9v1.9h-1.9zM384.5 121.0h1.9v1.9h-1.9zM377.7 119.4h1.9v1.9h-1.9zM374.3 121.2h1.9v1.9h-1.9zM367.7 122.2h1.9v1.9h-1.9zM361.0 125.7h1.9v1.9h-1.9zM369.5 111.1h1.9v1.9h-1.9zM369.0 126.8h1.9v1.9h-1.9zM366.7 126.1h1.9v1.9h-1.9zM375.5 136.5h1.9v1.9h-1.9zM363.8 120.4h1.9v1.9h-1.9zM375.1 136.0h1.9v1.9h-1.9zM373.4 128.8h1.9v1.9h-1.9zM361.1 115.9h1.9v1.9h-1.9zM383.3 118.8h1.9v1.9h-1.9zM386.8 114.5h1.9v1.9h-1.9zM369.5 106.1h1.9v1.9h-1.9zM376.0 124.1h1.9v1.9h-1.9zM385.8 123.1h1.9v1.9h-1.9zM369.7 107.9h1.9v1.9h-1.9zM370.9 130.6h1.9v1.9h-1.9zM376.8 133.4h1.9v1.9h-1.9zM377.6 121.1h1.9v1.9h-1.9zM375.8 123.2h1.9v1.9h-1.9zM362.0 138.1h1.9v1.9h-1.9zM374.2 111.3h1.9v1.9h-1.9zM374.2 124.3h1.9v1.9h-1.9zM378.6 135.5h1.9v1.9h-1.9zM349.9 126.9h1.9v1.9h-1.9zM382.4 112.3h1.9v1.9h-1.9zM358.3 124.2h1.9v1.9h-1.9zM373.9 124.9h1.9v1.9h-1.9zM363.6 117.0h1.9v1.9h-1.9zM372.9 128.7h1.9v1.9h-1.9zM387.1 124.4h1.9v1.9h-1.9zM367.2 98.6h1.9v1.9h-1.9zM379.2 120.2h1.9v1.9h-1.9zM370.7 111.9h1.9v1.9h-1.9zM376.7 104.1h1.9v1.9h-1.9zM372.3 122.7h1.9v1.9h-1.9zM373.6 134.2h1.9v1.9h-1.9zM370.8 122.4h1.9v1.9h-1.9zM377.6 106.4h1.9v1.9h-1.9zM369.4 122.2h1.9v1.9h-1.9zM378.3 113.7h1.9v1.9h-1.9zM377.2 125.2h1.9v1.9h-1.9zM360.9 107.1h1.9v1.9h-1.9zM361.3 122.9h1.9v1.9h-1.9zM373.0 128.5h1.9v1.9h-1.9zM377.4 116.1h1.9v1.9h-1.9zM379.1 129.5h1.9v1.9h-1.9zM374.9 126.2h1.9v1.9h-1.9zM362.3 125.0h1.9v1.9h-1.9zM364.1 109.9h1.9v1.9h-1.9zM369.0 122.9h1.9v1.9h-1.9zM371.1 118.3h1.9v1.9h-1.9zM364.3 123.3h1.9v1.9h-1.9zM366.2 107.8h1.9v1.9h-1.9zM372.2 135.7h1.9v1.9h-1.9zM368.6 111.2h1.9v1.9h-1.9zM381.4 138.2h1.9v1.9h-1.9zM369.4 119.4h1.9v1.9h-1.9zM373.0 150.3h1.9v1.9h-1.9zM372.5 131.2h1.9v1.9h-1.9zM374.7 103.8h1.9v1.9h-1.9zM363.6 109.5h1.9v1.9h-1.9zM374.6 122.5h1.9v1.9h-1.9zM384.3 118.9h1.9v1.9h-1.9zM373.7 122.2h1.9v1.9h-1.9zM372.5 144.1h1.9v1.9h-1.9zM373.5 135.9h1.9v1.9h-1.9zM380.8 115.6h1.9v1.9h-1.9zM376.4 117.8h1.9v1.9h-1.9zM372.3 123.0h1.9v1.9h-1.9zM371.7 116.9h1.9v1.9h-1.9zM382.7 118.9h1.9v1.9h-1.9zM376.5 137.9h1.9v1.9h-1.9zM376.0 131.5h1.9v1.9h-1.9zM381.5 132.1h1.9v1.9h-1.9zM383.8 107.5h1.9v1.9h-1.9zM385.6 121.8h1.9v1.9h-1.9zM359.0 115.2h1.9v1.9h-1.9zM361.5 121.3h1.9v1.9h-1.9zM360.8 111.7h1.9v1.9h-1.9zM373.6 123.0h1.9v1.9h-1.9zM365.8 119.2h1.9v1.9h-1.9zM370.8 122.2h1.9v1.9h-1.9zM371.5 119.3h1.9v1.9h-1.9zM377.8 105.8h1.9v1.9h-1.9zM368.0 122.8h1.9v1.9h-1.9zM368.6 116.1h1.9v1.9h-1.9zM368.4 123.5h1.9v1.9h-1.9zM380.5 119.7h1.9v1.9h-1.9zM369.6 125.0h1.9v1.9h-1.9zM369.8 102.6h1.9v1.9h-1.9zM373.4 117.8h1.9v1.9h-1.9zM367.4 127.7h1.9v1.9h-1.9zM371.8 116.0h1.9v1.9h-1.9zM355.8 104.7h1.9v1.9h-1.9zM371.6 120.4h1.9v1.9h-1.9zM374.7 123.7h1.9v1.9h-1.9zM368.1 109.1h1.9v1.9h-1.9zM363.6 120.1h1.9v1.9h-1.9zM363.2 128.9h1.9v1.9h-1.9zM362.0 104.0h1.9v1.9h-1.9zM370.1 104.1h1.9v1.9h-1.9zM383.2 111.8h1.9v1.9h-1.9zM371.1 119.1h1.9v1.9h-1.9zM365.6 104.2h1.9v1.9h-1.9zM358.1 130.0h1.9v1.9h-1.9zM378.9 142.7h1.9v1.9h-1.9zM361.0 127.0h1.9v1.9h-1.9zM371.4 129.8h1.9v1.9h-1.9zM367.8 128.6h1.9v1.9h-1.9zM377.9 127.4h1.9v1.9h-1.9zM381.9 119.8h1.9v1.9h-1.9zM382.6 114.6h1.9v1.9h-1.9zM383.5 94.6h1.9v1.9h-1.9zM371.6 113.7h1.9v1.9h-1.9zM371.5 131.6h1.9v1.9h-1.9zM376.7 122.4h1.9v1.9h-1.9zM383.8 107.0h1.9v1.9h-1.9zM365.6 136.3h1.9v1.9h-1.9zM373.9 101.2h1.9v1.9h-1.9zM374.0 109.9h1.9v1.9h-1.9zM382.1 132.7h1.9v1.9h-1.9zM367.6 134.2h1.9v1.9h-1.9zM365.5 130.5h1.9v1.9h-1.9zM375.7 120.3h1.9v1.9h-1.9zM361.3 118.8h1.9v1.9h-1.9zM355.0 116.0h1.9v1.9h-1.9zM358.2 133.4h1.9v1.9h-1.9zM364.5 97.7h1.9v1.9h-1.9zM375.7 125.1h1.9v1.9h-1.9zM367.9 142.3h1.9v1.9h-1.9zM377.1 122.2h1.9v1.9h-1.9zM366.9 92.5h1.9v1.9h-1.9zM375.0 130.9h1.9v1.9h-1.9zM367.2 107.7h1.9v1.9h-1.9zM371.2 105.1h1.9v1.9h-1.9zM371.6 129.1h1.9v1.9h-1.9zM382.4 124.1h1.9v1.9h-1.9zM372.9 128.8h1.9v1.9h-1.9zM381.6 118.4h1.9v1.9h-1.9zM362.7 113.7h1.9v1.9h-1.9zM362.4 112.8h1.9v1.9h-1.9zM370.6 124.9h1.9v1.9h-1.9zM372.6 122.2h1.9v1.9h-1.9zM368.9 125.6h1.9v1.9h-1.9zM377.9 128.9h1.9v1.9h-1.9zM382.3 118.7h1.9v1.9h-1.9zM369.7 138.1h1.9v1.9h-1.9zM372.9 125.5h1.9v1.9h-1.9zM369.1 131.0h1.9v1.9h-1.9zM368.6 111.6h1.9v1.9h-1.9zM371.1 117.2h1.9v1.9h-1.9zM377.5 117.8h1.9v1.9h-1.9zM372.4 119.4h1.9v1.9h-1.9zM373.9 115.3h1.9v1.9h-1.9zM379.5 107.5h1.9v1.9h-1.9zM368.7 114.6h1.9v1.9h-1.9zM376.2 121.9h1.9v1.9h-1.9zM375.0 118.3h1.9v1.9h-1.9zM366.3 110.5h1.9v1.9h-1.9zM369.1 116.3h1.9v1.9h-1.9zM373.5 125.0h1.9v1.9h-1.9zM378.5 120.5h1.9v1.9h-1.9zM366.1 111.1h1.9v1.9h-1.9zM371.9 125.0h1.9v1.9h-1.9zM385.5 123.3h1.9v1.9h-1.9zM384.2 139.9h1.9v1.9h-1.9zM363.9 133.4h1.9v1.9h-1.9zM379.7 134.7h1.9v1.9h-1.9zM371.4 130.9h1.9v1.9h-1.9zM368.0 120.8h1.9v1.9h-1.9zM371.6 139.0h1.9v1.9h-1.9zM370.0 130.9h1.9v1.9h-1.9zM372.0 114.6h1.9v1.9h-1.9zM373.2 128.0h1.9v1.9h-1.9zM366.4 127.7h1.9v1.9h-1.9zM366.4 112.9h1.9v1.9h-1.9zM373.1 119.2h1.9v1.9h-1.9zM364.4 105.5h1.9v1.9h-1.9zM371.7 123.9h1.9v1.9h-1.9zM368.2 123.3h1.9v1.9h-1.9zM360.5 125.3h1.9v1.9h-1.9zM374.5 124.2h1.9v1.9h-1.9zM367.1 122.3h1.9v1.9h-1.9zM372.4 132.0h1.9v1.9h-1.9zM373.5 124.0h1.9v1.9h-1.9zM366.3 129.9h1.9v1.9h-1.9zM379.9 116.7h1.9v1.9h-1.9zM376.1 124.5h1.9v1.9h-1.9zM371.2 108.9h1.9v1.9h-1.9zM384.1 103.2h1.9v1.9h-1.9zM373.7 117.8h1.9v1.9h-1.9zM379.7 117.4h1.9v1.9h-1.9zM371.8 127.5h1.9v1.9h-1.9zM374.8 116.4h1.9v1.9h-1.9zM376.4 125.3h1.9v1.9h-1.9zM378.6 116.5h1.9v1.9h-1.9zM371.2 117.7h1.9v1.9h-1.9zM365.5 124.0h1.9v1.9h-1.9zM374.4 135.4h1.9v1.9h-1.9zM369.2 125.3h1.9v1.9h-1.9zM379.7 120.4h1.9v1.9h-1.9zM372.0 122.8h1.9v1.9h-1.9zM366.5 111.8h1.9v1.9h-1.9zM379.5 123.2h1.9v1.9h-1.9zM371.0 109.4h1.9v1.9h-1.9zM372.3 133.0h1.9v1.9h-1.9zM363.2 112.8h1.9v1.9h-1.9zM379.5 135.5h1.9v1.9h-1.9zM382.6 116.1h1.9v1.9h-1.9zM375.8 114.2h1.9v1.9h-1.9zM375.2 117.9h1.9v1.9h-1.9zM372.9 134.6h1.9v1.9h-1.9zM373.9 119.2h1.9v1.9h-1.9zM371.9 124.1h1.9v1.9h-1.9zM367.8 123.5h1.9v1.9h-1.9zM375.8 136.7h1.9v1.9h-1.9zM356.7 109.9h1.9v1.9h-1.9zM362.6 130.0h1.9v1.9h-1.9zM389.0 123.4h1.9v1.9h-1.9zM372.4 132.6h1.9v1.9h-1.9zM354.0 119.8h1.9v1.9h-1.9zM349.2 123.0h1.9v1.9h-1.9zM367.9 116.8h1.9v1.9h-1.9zM373.9 115.8h1.9v1.9h-1.9zM379.5 121.5h1.9v1.9h-1.9zM374.2 146.2h1.9v1.9h-1.9zM368.3 130.5h1.9v1.9h-1.9zM365.6 133.6h1.9v1.9h-1.9zM378.4 122.9h1.9v1.9h-1.9zM378.6 137.2h1.9v1.9h-1.9zM381.3 121.5h1.9v1.9h-1.9zM371.1 132.3h1.9v1.9h-1.9zM361.0 115.6h1.9v1.9h-1.9zM375.0 127.0h1.9v1.9h-1.9zM384.8 138.6h1.9v1.9h-1.9zM373.8 125.8h1.9v1.9h-1.9zM362.1 119.7h1.9v1.9h-1.9zM373.4 119.3h1.9v1.9h-1.9zM371.9 127.4h1.9v1.9h-1.9zM364.7 116.0h1.9v1.9h-1.9zM358.8 132.6h1.9v1.9h-1.9zM364.0 105.0h1.9v1.9h-1.9zM377.0 119.4h1.9v1.9h-1.9zM378.4 117.9h1.9v1.9h-1.9zM386.6 128.4h1.9v1.9h-1.9zM372.6 122.6h1.9v1.9h-1.9zM370.0 129.3h1.9v1.9h-1.9zM385.7 117.4h1.9v1.9h-1.9zM363.8 127.3h1.9v1.9h-1.9zM379.1 107.0h1.9v1.9h-1.9zM366.6 111.8h1.9v1.9h-1.9zM375.5 126.4h1.9v1.9h-1.9zM366.3 110.6h1.9v1.9h-1.9zM376.4 101.6h1.9v1.9h-1.9zM376.1 120.0h1.9v1.9h-1.9zM385.1 131.1h1.9v1.9h-1.9zM367.4 118.8h1.9v1.9h-1.9zM369.5 114.5h1.9v1.9h-1.9zM372.1 130.8h1.9v1.9h-1.9zM360.8 119.3h1.9v1.9h-1.9zM382.1 128.7h1.9v1.9h-1.9zM365.7 113.7h1.9v1.9h-1.9zM365.4 106.0h1.9v1.9h-1.9zM379.7 122.2h1.9v1.9h-1.9zM366.6 107.7h1.9v1.9h-1.9zM368.8 116.6h1.9v1.9h-1.9zM383.7 117.1h1.9v1.9h-1.9zM372.3 131.8h1.9v1.9h-1.9zM376.2 119.8h1.9v1.9h-1.9zM356.0 135.0h1.9v1.9h-1.9zM375.7 117.3h1.9v1.9h-1.9zM370.9 112.3h1.9v1.9h-1.9zM365.1 107.2h1.9v1.9h-1.9zM375.1 126.5h1.9v1.9h-1.9zM372.7 129.0h1.9v1.9h-1.9zM375.3 122.7h1.9v1.9h-1.9zM365.2 127.2h1.9v1.9h-1.9zM379.9 127.6h1.9v1.9h-1.9zM380.3 116.9h1.9v1.9h-1.9zM364.6 133.5h1.9v1.9h-1.9zM367.4 123.8h1.9v1.9h-1.9zM370.2 121.7h1.9v1.9h-1.9zM369.6 116.3h1.9v1.9h-1.9zM358.9 139.8h1.9v1.9h-1.9zM372.9 103.0h1.9v1.9h-1.9zM365.1 110.7h1.9v1.9h-1.9zM366.3 97.0h1.9v1.9h-1.9zM375.6 137.3h1.9v1.9h-1.9zM369.8 128.7h1.9v1.9h-1.9zM375.7 109.5h1.9v1.9h-1.9zM380.1 105.3h1.9v1.9h-1.9zM367.4 118.0h1.9v1.9h-1.9zM380.4 122.6h1.9v1.9h-1.9zM370.6 113.8h1.9v1.9h-1.9zM372.1 121.9h1.9v1.9h-1.9zM376.7 134.9h1.9v1.9h-1.9zM376.7 121.7h1.9v1.9h-1.9zM370.4 136.9h1.9v1.9h-1.9zM372.9 121.3h1.9v1.9h-1.9zM384.2 136.6h1.9v1.9h-1.9zM375.5 120.5h1.9v1.9h-1.9zM367.0 131.7h1.9v1.9h-1.9zM368.3 130.7h1.9v1.9h-1.9zM366.0 122.5h1.9v1.9h-1.9zM374.3 122.9h1.9v1.9h-1.9zM373.1 125.2h1.9v1.9h-1.9zM363.6 110.9h1.9v1.9h-1.9zM370.5 138.8h1.9v1.9h-1.9zM370.6 112.6h1.9v1.9h-1.9zM366.9 121.8h1.9v1.9h-1.9zM379.8 116.1h1.9v1.9h-1.9zM375.4 123.3h1.9v1.9h-1.9zM369.0 112.5h1.9v1.9h-1.9zM370.4 114.6h1.9v1.9h-1.9zM375.3 104.6h1.9v1.9h-1.9zM379.4 128.8h1.9v1.9h-1.9zM375.6 135.8h1.9v1.9h-1.9zM375.7 105.1h1.9v1.9h-1.9zM371.9 125.8h1.9v1.9h-1.9zM366.7 110.7h1.9v1.9h-1.9zM374.5 126.4h1.9v1.9h-1.9zM368.5 119.2h1.9v1.9h-1.9zM367.9 116.1h1.9v1.9h-1.9zM371.1 131.8h1.9v1.9h-1.9zM360.2 118.2h1.9v1.9h-1.9zM382.8 124.5h1.9v1.9h-1.9zM372.6 129.5h1.9v1.9h-1.9zM364.5 109.9h1.9v1.9h-1.9zM359.8 107.6h1.9v1.9h-1.9zM373.2 129.6h1.9v1.9h-1.9zM368.6 115.0h1.9v1.9h-1.9zM374.3 127.4h1.9v1.9h-1.9zM373.3 103.3h1.9v1.9h-1.9zM367.7 97.3h1.9v1.9h-1.9zM373.2 113.4h1.9v1.9h-1.9zM366.9 135.9h1.9v1.9h-1.9zM380.8 126.1h1.9v1.9h-1.9zM373.4 123.2h1.9v1.9h-1.9zM367.4 121.0h1.9v1.9h-1.9zM384.9 113.1h1.9v1.9h-1.9zM366.9 123.0h1.9v1.9h-1.9zM377.8 129.5h1.9v1.9h-1.9zM364.7 120.3h1.9v1.9h-1.9zM369.6 109.7h1.9v1.9h-1.9zM372.0 116.9h1.9v1.9h-1.9zM377.9 125.6h1.9v1.9h-1.9zM366.0 122.3h1.9v1.9h-1.9zM369.0 115.4h1.9v1.9h-1.9zM368.1 131.6h1.9v1.9h-1.9zM368.6 105.2h1.9v1.9h-1.9zM366.1 129.2h1.9v1.9h-1.9zM386.6 111.5h1.9v1.9h-1.9zM369.0 118.4h1.9v1.9h-1.9zM361.6 125.3h1.9v1.9h-1.9zM371.1 124.2h1.9v1.9h-1.9zM387.2 119.0h1.9v1.9h-1.9zM377.1 129.5h1.9v1.9h-1.9zM367.1 115.9h1.9v1.9h-1.9zM382.4 128.3h1.9v1.9h-1.9zM372.5 111.1h1.9v1.9h-1.9zM377.7 126.5h1.9v1.9h-1.9zM386.9 135.5h1.9v1.9h-1.9zM377.1 124.1h1.9v1.9h-1.9zM371.9 116.3h1.9v1.9h-1.9zM373.7 123.8h1.9v1.9h-1.9zM376.1 131.9h1.9v1.9h-1.9zM373.7 116.3h1.9v1.9h-1.9zM377.2 136.3h1.9v1.9h-1.9zM365.7 125.5h1.9v1.9h-1.9zM375.3 126.6h1.9v1.9h-1.9zM375.0 120.6h1.9v1.9h-1.9zM370.8 137.6h1.9v1.9h-1.9zM383.6 108.1h1.9v1.9h-1.9zM353.7 125.7h1.9v1.9h-1.9zM366.8 116.6h1.9v1.9h-1.9zM360.3 124.9h1.9v1.9h-1.9zM371.1 116.4h1.9v1.9h-1.9zM377.8 144.7h1.9v1.9h-1.9zM381.8 132.7h1.9v1.9h-1.9zM368.6 127.8h1.9v1.9h-1.9zM371.2 132.5h1.9v1.9h-1.9zM375.6 121.2h1.9v1.9h-1.9zM375.4 114.7h1.9v1.9h-1.9zM377.0 135.8h1.9v1.9h-1.9zM369.0 126.8h1.9v1.9h-1.9zM359.8 130.4h1.9v1.9h-1.9zM377.6 111.8h1.9v1.9h-1.9zM383.7 122.6h1.9v1.9h-1.9zM359.4 108.5h1.9v1.9h-1.9zM377.6 118.9h1.9v1.9h-1.9zM379.2 106.7h1.9v1.9h-1.9zM370.8 130.8h1.9v1.9h-1.9zM366.8 128.0h1.9v1.9h-1.9zM369.0 124.8h1.9v1.9h-1.9zM373.8 142.8h1.9v1.9h-1.9zM362.8 128.9h1.9v1.9h-1.9zM380.7 110.8h1.9v1.9h-1.9zM372.1 143.5h1.9v1.9h-1.9zM378.8 93.3h1.9v1.9h-1.9zM369.8 105.2h1.9v1.9h-1.9zM373.6 114.6h1.9v1.9h-1.9zM367.6 113.5h1.9v1.9h-1.9zM373.6 117.1h1.9v1.9h-1.9zM365.2 119.3h1.9v1.9h-1.9zM374.3 113.4h1.9v1.9h-1.9zM379.3 105.7h1.9v1.9h-1.9zM374.4 117.8h1.9v1.9h-1.9zM390.1 114.3h1.9v1.9h-1.9zM362.9 103.8h1.9v1.9h-1.9zM395.1 133.3h1.9v1.9h-1.9zM357.8 118.9h1.9v1.9h-1.9zM359.4 146.9h1.9v1.9h-1.9zM376.1 93.3h1.9v1.9h-1.9zM373.5 137.8h1.9v1.9h-1.9zM371.0 131.1h1.9v1.9h-1.9zM369.7 127.1h1.9v1.9h-1.9zM373.6 113.3h1.9v1.9h-1.9zM375.2 126.5h1.9v1.9h-1.9zM370.5 113.7h1.9v1.9h-1.9zM358.7 127.7h1.9v1.9h-1.9zM381.0 87.6h1.9v1.9h-1.9zM364.5 144.4h1.9v1.9h-1.9zM382.1 113.3h1.9v1.9h-1.9zM387.4 109.1h1.9v1.9h-1.9zM361.4 153.2h1.9v1.9h-1.9zM365.7 120.7h1.9v1.9h-1.9zM351.0 108.8h1.9v1.9h-1.9zM356.7 121.9h1.9v1.9h-1.9zM348.7 140.0h1.9v1.9h-1.9zM366.7 114.9h1.9v1.9h-1.9zM363.3 135.2h1.9v1.9h-1.9zM389.6 117.9h1.9v1.9h-1.9zM390.6 148.3h1.9v1.9h-1.9zM387.3 128.5h1.9v1.9h-1.9zM352.9 134.2h1.9v1.9h-1.9zM366.0 126.9h1.9v1.9h-1.9zM348.1 119.7h1.9v1.9h-1.9zM373.8 109.9h1.9v1.9h-1.9zM374.6 149.2h1.9v1.9h-1.9zM373.8 113.7h1.9v1.9h-1.9zM400.0 91.5h1.9v1.9h-1.9zM359.8 130.2h1.9v1.9h-1.9zM363.8 89.4h1.9v1.9h-1.9zM374.2 136.5h1.9v1.9h-1.9zM361.3 146.1h1.9v1.9h-1.9zM377.1 142.0h1.9v1.9h-1.9zM352.4 124.0h1.9v1.9h-1.9zM390.5 154.4h1.9v1.9h-1.9zM387.0 124.0h1.9v1.9h-1.9zM373.2 114.5h1.9v1.9h-1.9zM384.4 113.5h1.9v1.9h-1.9zM372.5 92.8h1.9v1.9h-1.9zM352.7 150.9h1.9v1.9h-1.9zM371.7 127.3h1.9v1.9h-1.9zM344.3 123.5h1.9v1.9h-1.9zM396.2 101.4h1.9v1.9h-1.9zM364.5 120.8h1.9v1.9h-1.9zM355.7 103.5h1.9v1.9h-1.9zM355.9 133.7h1.9v1.9h-1.9zM370.4 136.4h1.9v1.9h-1.9zM357.8 132.9h1.9v1.9h-1.9zM365.6 125.4h1.9v1.9h-1.9zM382.4 124.5h1.9v1.9h-1.9zM366.7 98.8h1.9v1.9h-1.9zM371.8 135.9h1.9v1.9h-1.9zM363.3 123.0h1.9v1.9h-1.9zM349.4 103.8h1.9v1.9h-1.9zM375.9 143.6h1.9v1.9h-1.9zM367.2 98.7h1.9v1.9h-1.9zM366.4 100.3h1.9v1.9h-1.9zM367.6 153.3h1.9v1.9h-1.9zM374.7 121.7h1.9v1.9h-1.9zM383.7 118.2h1.9v1.9h-1.9zM375.1 127.0h1.9v1.9h-1.9zM376.5 101.7h1.9v1.9h-1.9zM379.7 137.4h1.9v1.9h-1.9zM360.0 146.7h1.9v1.9h-1.9zM371.3 134.3h1.9v1.9h-1.9zM377.8 137.5h1.9v1.9h-1.9zM363.2 115.1h1.9v1.9h-1.9zM375.6 133.3h1.9v1.9h-1.9zM378.0 129.2h1.9v1.9h-1.9zM365.0 140.8h1.9v1.9h-1.9zM376.8 140.2h1.9v1.9h-1.9zM362.8 125.8h1.9v1.9h-1.9zM365.1 119.3h1.9v1.9h-1.9zM373.4 129.3h1.9v1.9h-1.9zM361.2 85.4h1.9v1.9h-1.9zM361.4 132.3h1.9v1.9h-1.9zM360.6 130.5h1.9v1.9h-1.9zM366.5 109.6h1.9v1.9h-1.9zM385.4 149.3h1.9v1.9h-1.9zM369.7 123.2h1.9v1.9h-1.9zM382.8 103.7h1.9v1.9h-1.9zM360.2 141.3h1.9v1.9h-1.9zM382.1 116.5h1.9v1.9h-1.9zM361.4 129.4h1.9v1.9h-1.9zM353.6 116.4h1.9v1.9h-1.9zM368.1 86.3h1.9v1.9h-1.9zM378.3 135.7h1.9v1.9h-1.9zM384.2 102.0h1.9v1.9h-1.9zM355.1 111.5h1.9v1.9h-1.9zM354.9 155.5h1.9v1.9h-1.9zM358.9 119.2h1.9v1.9h-1.9zM373.6 131.0h1.9v1.9h-1.9zM389.0 107.3h1.9v1.9h-1.9zM381.9 126.3h1.9v1.9h-1.9zM356.5 126.3h1.9v1.9h-1.9zM353.6 148.9h1.9v1.9h-1.9zM362.0 139.5h1.9v1.9h-1.9zM387.1 114.5h1.9v1.9h-1.9zM359.9 126.0h1.9v1.9h-1.9zM358.0 137.8h1.9v1.9h-1.9zM373.2 112.3h1.9v1.9h-1.9zM362.5 135.2h1.9v1.9h-1.9zM353.0 150.0h1.9v1.9h-1.9zM361.3 121.0h1.9v1.9h-1.9zM359.5 149.0h1.9v1.9h-1.9zM381.2 144.0h1.9v1.9h-1.9zM379.1 125.4h1.9v1.9h-1.9zM392.1 134.2h1.9v1.9h-1.9zM376.4 132.9h1.9v1.9h-1.9zM380.2 128.3h1.9v1.9h-1.9zM368.9 99.4h1.9v1.9h-1.9zM396.6 103.9h1.9v1.9h-1.9zM344.2 113.0h1.9v1.9h-1.9zM395.1 142.8h1.9v1.9h-1.9zM363.5 128.1h1.9v1.9h-1.9zM370.7 93.3h1.9v1.9h-1.9zM366.8 128.5h1.9v1.9h-1.9zM385.6 105.4h1.9v1.9h-1.9zM375.1 125.2h1.9v1.9h-1.9zM372.9 126.3h1.9v1.9h-1.9zM366.4 102.9h1.9v1.9h-1.9zM376.7 130.0h1.9v1.9h-1.9zM378.2 143.3h1.9v1.9h-1.9zM355.5 87.8h1.9v1.9h-1.9zM348.7 157.1h1.9v1.9h-1.9zM359.6 130.2h1.9v1.9h-1.9zM370.8 135.3h1.9v1.9h-1.9zM411.1 116.0h1.9v1.9h-1.9zM368.9 114.7h1.9v1.9h-1.9zM374.1 132.1h1.9v1.9h-1.9zM358.9 144.4h1.9v1.9h-1.9zM385.3 130.9h1.9v1.9h-1.9zM369.6 120.3h1.9v1.9h-1.9zM350.5 134.2h1.9v1.9h-1.9zM358.8 116.2h1.9v1.9h-1.9zM383.5 109.7h1.9v1.9h-1.9zM364.5 137.3h1.9v1.9h-1.9zM394.2 113.3h1.9v1.9h-1.9zM384.8 113.9h1.9v1.9h-1.9zM375.8 131.5h1.9v1.9h-1.9zM356.8 139.9h1.9v1.9h-1.9zM393.5 124.8h1.9v1.9h-1.9zM374.4 105.8h1.9v1.9h-1.9zM393.3 125.0h1.9v1.9h-1.9zM355.0 135.8h1.9v1.9h-1.9zM352.7 113.4h1.9v1.9h-1.9zM344.4 145.3h1.9v1.9h-1.9zM398.6 114.2h1.9v1.9h-1.9zM362.8 115.0h1.9v1.9h-1.9zM363.9 132.6h1.9v1.9h-1.9zM389.2 108.4h1.9v1.9h-1.9zM376.5 96.1h1.9v1.9h-1.9zM390.0 122.6h1.9v1.9h-1.9zM362.2 147.7h1.9v1.9h-1.9zM369.7 145.2h1.9v1.9h-1.9zM384.4 149.7h1.9v1.9h-1.9zM361.0 124.9h1.9v1.9h-1.9zM375.6 121.0h1.9v1.9h-1.9zM390.0 112.9h1.9v1.9h-1.9zM383.5 145.1h1.9v1.9h-1.9zM346.6 109.0h1.9v1.9h-1.9zM359.7 115.5h1.9v1.9h-1.9zM375.9 121.3h1.9v1.9h-1.9zM372.0 116.9h1.9v1.9h-1.9zM370.0 131.5h1.9v1.9h-1.9zM380.3 111.9h1.9v1.9h-1.9zM369.6 112.2h1.9v1.9h-1.9zM368.8 101.7h1.9v1.9h-1.9zM382.9 134.4h1.9v1.9h-1.9zM369.5 113.4h1.9v1.9h-1.9zM365.3 113.7h1.9v1.9h-1.9zM351.7 149.3h1.9v1.9h-1.9zM412.1 104.9h1.9v1.9h-1.9zM356.4 133.0h1.9v1.9h-1.9zM378.6 99.6h1.9v1.9h-1.9zM347.0 132.4h1.9v1.9h-1.9zM346.1 146.1h1.9v1.9h-1.9zM364.8 125.3h1.9v1.9h-1.9zM371.0 115.3h1.9v1.9h-1.9zM369.2 119.4h1.9v1.9h-1.9zM386.6 122.6h1.9v1.9h-1.9zM370.6 115.8h1.9v1.9h-1.9zM363.1 112.6h1.9v1.9h-1.9zM371.1 152.5h1.9v1.9h-1.9zM384.9 127.7h1.9v1.9h-1.9zM391.9 139.7h1.9v1.9h-1.9zM373.6 121.5h1.9v1.9h-1.9zM357.3 127.9h1.9v1.9h-1.9zM367.1 99.4h1.9v1.9h-1.9zM354.9 154.0h1.9v1.9h-1.9zM373.7 131.7h1.9v1.9h-1.9zM373.5 116.8h1.9v1.9h-1.9zM376.8 140.8h1.9v1.9h-1.9zM367.1 131.9h1.9v1.9h-1.9zM383.8 116.5h1.9v1.9h-1.9zM373.1 112.5h1.9v1.9h-1.9zM378.5 118.3h1.9v1.9h-1.9zM385.3 112.2h1.9v1.9h-1.9zM392.1 119.2h1.9v1.9h-1.9zM360.5 110.0h1.9v1.9h-1.9zM379.3 110.7h1.9v1.9h-1.9zM393.6 143.9h1.9v1.9h-1.9zM377.5 102.0h1.9v1.9h-1.9zM370.7 112.7h1.9v1.9h-1.9zM348.4 130.6h1.9v1.9h-1.9zM398.5 115.7h1.9v1.9h-1.9zM381.1 143.9h1.9v1.9h-1.9zM359.0 118.7h1.9v1.9h-1.9zM374.4 131.3h1.9v1.9h-1.9zM356.7 127.4h1.9v1.9h-1.9zM369.7 138.7h1.9v1.9h-1.9zM351.0 115.3h1.9v1.9h-1.9zM364.7 119.1h1.9v1.9h-1.9zM380.0 114.3h1.9v1.9h-1.9zM405.2 113.0h1.9v1.9h-1.9zM381.5 139.8h1.9v1.9h-1.9zM383.1 120.8h1.9v1.9h-1.9zM360.6 120.0h1.9v1.9h-1.9zM379.3 125.9h1.9v1.9h-1.9zM378.3 132.9h1.9v1.9h-1.9zM360.0 109.5h1.9v1.9h-1.9zM389.0 116.5h1.9v1.9h-1.9zM351.2 152.8h1.9v1.9h-1.9zM360.6 109.5h1.9v1.9h-1.9zM383.1 106.5h1.9v1.9h-1.9zM360.1 140.2h1.9v1.9h-1.9zM360.8 162.9h1.9v1.9h-1.9zM372.2 165.6h1.9v1.9h-1.9zM372.6 124.9h1.9v1.9h-1.9zM363.0 120.6h1.9v1.9h-1.9zM364.7 123.6h1.9v1.9h-1.9zM380.6 104.3h1.9v1.9h-1.9zM359.5 91.5h1.9v1.9h-1.9zM389.8 122.8h1.9v1.9h-1.9zM370.8 123.1h1.9v1.9h-1.9zM383.6 129.0h1.9v1.9h-1.9zM381.6 121.4h1.9v1.9h-1.9zM369.5 123.1h1.9v1.9h-1.9zM347.7 140.9h1.9v1.9h-1.9zM351.3 108.6h1.9v1.9h-1.9zM379.4 124.9h1.9v1.9h-1.9zM381.2 150.4h1.9v1.9h-1.9zM394.3 145.4h1.9v1.9h-1.9zM368.2 155.8h1.9v1.9h-1.9zM360.0 122.7h1.9v1.9h-1.9zM383.5 120.7h1.9v1.9h-1.9zM369.5 118.5h1.9v1.9h-1.9zM388.1 85.8h1.9v1.9h-1.9zM386.9 140.4h1.9v1.9h-1.9zM370.1 132.7h1.9v1.9h-1.9zM358.9 141.2h1.9v1.9h-1.9zM409.3 109.7h1.9v1.9h-1.9zM388.5 123.1h1.9v1.9h-1.9zM366.8 116.5h1.9v1.9h-1.9zM368.6 104.6h1.9v1.9h-1.9zM354.0 149.8h1.9v1.9h-1.9zM370.8 132.6h1.9v1.9h-1.9zM374.9 131.4h1.9v1.9h-1.9zM351.9 109.3h1.9v1.9h-1.9zM378.9 139.5h1.9v1.9h-1.9zM356.7 115.0h1.9v1.9h-1.9zM357.6 134.1h1.9v1.9h-1.9zM375.3 124.5h1.9v1.9h-1.9zM362.9 129.3h1.9v1.9h-1.9zM371.4 112.5h1.9v1.9h-1.9zM375.2 113.7h1.9v1.9h-1.9zM382.9 133.7h1.9v1.9h-1.9zM362.4 133.1h1.9v1.9h-1.9zM371.8 113.1h1.9v1.9h-1.9zM359.6 98.2h1.9v1.9h-1.9zM356.9 129.4h1.9v1.9h-1.9zM386.1 114.3h1.9v1.9h-1.9zM373.0 129.3h1.9v1.9h-1.9zM380.8 130.9h1.9v1.9h-1.9zM386.3 135.9h1.9v1.9h-1.9zM361.5 130.1h1.9v1.9h-1.9zM371.3 133.0h1.9v1.9h-1.9zM367.2 136.9h1.9v1.9h-1.9zM387.5 111.0h1.9v1.9h-1.9zM364.2 128.0h1.9v1.9h-1.9zM377.1 126.2h1.9v1.9h-1.9zM381.4 105.7h1.9v1.9h-1.9zM380.7 142.1h1.9v1.9h-1.9zM384.9 130.6h1.9v1.9h-1.9zM368.0 130.2h1.9v1.9h-1.9zM370.1 99.4h1.9v1.9h-1.9zM363.4 123.4h1.9v1.9h-1.9zM364.6 109.5h1.9v1.9h-1.9zM396.4 117.5h1.9v1.9h-1.9zM398.5 121.4h1.9v1.9h-1.9zM399.2 133.9h1.9v1.9h-1.9zM399.0 126.9h1.9v1.9h-1.9zM389.4 86.6h1.9v1.9h-1.9zM395.2 130.1h1.9v1.9h-1.9zM395.6 114.5h1.9v1.9h-1.9zM389.3 132.7h1.9v1.9h-1.9zM394.3 124.9h1.9v1.9h-1.9zM405.9 128.4h1.9v1.9h-1.9zM413.7 120.4h1.9v1.9h-1.9zM404.7 130.3h1.9v1.9h-1.9zM393.4 122.6h1.9v1.9h-1.9zM394.0 109.7h1.9v1.9h-1.9zM400.1 112.7h1.9v1.9h-1.9zM409.8 113.1h1.9v1.9h-1.9zM394.2 123.1h1.9v1.9h-1.9zM394.4 122.6h1.9v1.9h-1.9zM393.7 104.9h1.9v1.9h-1.9zM381.1 106.5h1.9v1.9h-1.9zM408.7 127.3h1.9v1.9h-1.9zM399.1 116.4h1.9v1.9h-1.9zM397.0 125.6h1.9v1.9h-1.9zM388.3 112.4h1.9v1.9h-1.9zM391.8 137.1h1.9v1.9h-1.9zM390.6 136.1h1.9v1.9h-1.9zM394.7 154.7h1.9v1.9h-1.9zM397.5 122.4h1.9v1.9h-1.9zM407.5 132.5h1.9v1.9h-1.9zM404.6 109.2h1.9v1.9h-1.9zM406.0 142.2h1.9v1.9h-1.9zM397.3 116.2h1.9v1.9h-1.9zM390.4 134.2h1.9v1.9h-1.9zM400.1 122.1h1.9v1.9h-1.9zM389.4 141.5h1.9v1.9h-1.9zM404.1 121.8h1.9v1.9h-1.9zM408.3 110.6h1.9v1.9h-1.9zM404.2 110.0h1.9v1.9h-1.9zM407.9 118.7h1.9v1.9h-1.9zM406.6 117.0h1.9v1.9h-1.9zM400.8 135.7h1.9v1.9h-1.9zM391.7 123.2h1.9v1.9h-1.9zM392.1 132.2h1.9v1.9h-1.9zM393.8 117.5h1.9v1.9h-1.9zM396.6 136.0h1.9v1.9h-1.9zM390.7 121.7h1.9v1.9h-1.9zM395.7 115.4h1.9v1.9h-1.9zM392.5 120.1h1.9v1.9h-1.9zM399.4 103.4h1.9v1.9h-1.9zM399.6 107.8h1.9v1.9h-1.9zM398.1 149.4h1.9v1.9h-1.9zM391.2 121.2h1.9v1.9h-1.9zM396.2 133.8h1.9v1.9h-1.9zM394.7 100.6h1.9v1.9h-1.9zM386.7 124.1h1.9v1.9h-1.9zM399.8 134.8h1.9v1.9h-1.9zM394.2 130.0h1.9v1.9h-1.9zM390.6 137.5h1.9v1.9h-1.9zM397.5 113.9h1.9v1.9h-1.9zM399.2 142.9h1.9v1.9h-1.9zM392.1 107.1h1.9v1.9h-1.9zM390.9 108.1h1.9v1.9h-1.9zM397.6 126.2h1.9v1.9h-1.9zM396.9 124.4h1.9v1.9h-1.9zM406.3 118.5h1.9v1.9h-1.9zM389.2 94.6h1.9v1.9h-1.9zM399.7 113.8h1.9v1.9h-1.9zM396.3 126.9h1.9v1.9h-1.9zM401.2 103.2h1.9v1.9h-1.9zM391.3 122.9h1.9v1.9h-1.9zM423.9 123.4h1.9v1.9h-1.9zM443.3 143.0h1.9v1.9h-1.9zM449.3 141.6h1.9v1.9h-1.9zM431.3 120.2h1.9v1.9h-1.9zM425.8 146.8h1.9v1.9h-1.9zM420.1 107.6h1.9v1.9h-1.9zM424.4 144.3h1.9v1.9h-1.9zM449.5 115.9h1.9v1.9h-1.9zM449.5 142.8h1.9v1.9h-1.9zM430.8 109.2h1.9v1.9h-1.9zM446.0 118.0h1.9v1.9h-1.9zM417.3 143.3h1.9v1.9h-1.9zM431.3 119.1h1.9v1.9h-1.9zM438.2 112.3h1.9v1.9h-1.9zM412.9 118.7h1.9v1.9h-1.9zM428.7 100.5h1.9v1.9h-1.9zM428.4 136.5h1.9v1.9h-1.9zM426.6 132.6h1.9v1.9h-1.9zM439.5 109.0h1.9v1.9h-1.9zM412.9 132.4h1.9v1.9h-1.9zM438.9 114.1h1.9v1.9h-1.9zM420.8 141.1h1.9v1.9h-1.9zM452.0 111.2h1.9v1.9h-1.9zM437.8 127.6h1.9v1.9h-1.9zM426.2 101.7h1.9v1.9h-1.9zM426.3 130.9h1.9v1.9h-1.9zM438.5 124.5h1.9v1.9h-1.9zM417.4 110.2h1.9v1.9h-1.9zM425.7 120.0h1.9v1.9h-1.9zM428.0 143.3h1.9v1.9h-1.9zM417.1 147.3h1.9v1.9h-1.9zM422.6 141.1h1.9v1.9h-1.9zM422.7 128.2h1.9v1.9h-1.9zM428.6 101.8h1.9v1.9h-1.9zM447.0 138.9h1.9v1.9h-1.9zM344.3 128.4h1.9v1.9h-1.9zM345.5 104.7h1.9v1.9h-1.9zM343.9 115.5h1.9v1.9h-1.9zM344.9 133.8h1.9v1.9h-1.9zM345.1 137.4h1.9v1.9h-1.9zM344.5 106.0h1.9v1.9h-1.9zM345.2 136.1h1.9v1.9h-1.9zM345.1 133.5h1.9v1.9h-1.9zM344.5 132.9h1.9v1.9h-1.9zM344.6 124.7h1.9v1.9h-1.9zM344.2 133.0h1.9v1.9h-1.9zM344.0 125.1h1.9v1.9h-1.9zM344.4 105.5h1.9v1.9h-1.9zM344.3 133.8h1.9v1.9h-1.9zM378.2 103.1h1.9v1.9h-1.9zM383.0 109.6h1.9v1.9h-1.9zM374.2 109.5h1.9v1.9h-1.9zM373.1 118.6h1.9v1.9h-1.9zM382.6 121.9h1.9v1.9h-1.9zM377.2 114.2h1.9v1.9h-1.9zM375.2 104.9h1.9v1.9h-1.9zM379.6 112.5h1.9v1.9h-1.9zM384.6 108.4h1.9v1.9h-1.9zM385.5 115.8h1.9v1.9h-1.9zM375.6 108.9h1.9v1.9h-1.9zM375.4 120.2h1.9v1.9h-1.9zM377.3 115.3h1.9v1.9h-1.9zM384.6 108.5h1.9v1.9h-1.9zM377.6 112.1h1.9v1.9h-1.9zM376.1 102.4h1.9v1.9h-1.9zM375.2 112.0h1.9v1.9h-1.9zM381.0 120.5h1.9v1.9h-1.9zM370.9 113.0h1.9v1.9h-1.9zM374.3 116.9h1.9v1.9h-1.9zM383.5 110.8h1.9v1.9h-1.9zM387.3 107.8h1.9v1.9h-1.9zM377.4 103.7h1.9v1.9h-1.9zM376.7 110.7h1.9v1.9h-1.9zM383.3 117.6h1.9v1.9h-1.9zM378.7 105.6h1.9v1.9h-1.9zM378.3 107.4h1.9v1.9h-1.9zM377.7 107.6h1.9v1.9h-1.9zM375.7 109.7h1.9v1.9h-1.9zM377.5 109.0h1.9v1.9h-1.9zM373.1 110.9h1.9v1.9h-1.9zM382.8 113.9h1.9v1.9h-1.9zM377.3 103.2h1.9v1.9h-1.9zM373.5 103.0h1.9v1.9h-1.9zM376.8 108.2h1.9v1.9h-1.9zM371.2 114.0h1.9v1.9h-1.9zM372.4 105.9h1.9v1.9h-1.9zM376.4 114.9h1.9v1.9h-1.9zM389.1 107.9h1.9v1.9h-1.9zM378.6 107.7h1.9v1.9h-1.9zM379.0 109.0h1.9v1.9h-1.9zM392.2 103.5h1.9v1.9h-1.9zM379.5 105.3h1.9v1.9h-1.9zM381.8 106.9h1.9v1.9h-1.9zM382.9 103.6h1.9v1.9h-1.9zM390.5 111.2h1.9v1.9h-1.9zM371.2 114.2h1.9v1.9h-1.9zM377.7 103.1h1.9v1.9h-1.9zM382.2 106.9h1.9v1.9h-1.9zM383.7 106.8h1.9v1.9h-1.9zM384.5 110.9h1.9v1.9h-1.9zM381.8 110.9h1.9v1.9h-1.9zM378.2 107.9h1.9v1.9h-1.9zM382.2 114.2h1.9v1.9h-1.9zM378.0 123.3h1.9v1.9h-1.9zM388.4 103.2h1.9v1.9h-1.9zM385.4 109.6h1.9v1.9h-1.9zM381.2 105.3h1.9v1.9h-1.9zM388.2 105.1h1.9v1.9h-1.9zM379.6 105.7h1.9v1.9h-1.9zM389.6 117.4h1.9v1.9h-1.9zM373.5 107.3h1.9v1.9h-1.9zM381.8 107.5h1.9v1.9h-1.9zM378.3 103.6h1.9v1.9h-1.9zM381.2 103.5h1.9v1.9h-1.9zM384.1 124.2h1.9v1.9h-1.9zM378.4 119.7h1.9v1.9h-1.9zM381.8 106.0h1.9v1.9h-1.9zM378.3 104.3h1.9v1.9h-1.9zM380.6 114.1h1.9v1.9h-1.9zM384.6 108.4h1.9v1.9h-1.9zM374.1 109.6h1.9v1.9h-1.9zM388.3 111.7h1.9v1.9h-1.9zM379.7 97.7h1.9v1.9h-1.9zM377.9 113.2h1.9v1.9h-1.9zM375.3 118.0h1.9v1.9h-1.9zM377.2 104.9h1.9v1.9h-1.9zM377.1 109.5h1.9v1.9h-1.9zM384.9 106.7h1.9v1.9h-1.9zM371.2 109.5h1.9v1.9h-1.9zM382.6 119.1h1.9v1.9h-1.9zM374.5 118.7h1.9v1.9h-1.9zM383.3 112.7h1.9v1.9h-1.9zM376.2 104.8h1.9v1.9h-1.9zM375.3 115.5h1.9v1.9h-1.9zM381.1 116.3h1.9v1.9h-1.9zM389.0 110.1h1.9v1.9h-1.9zM379.8 121.3h1.9v1.9h-1.9zM373.6 107.4h1.9v1.9h-1.9zM378.2 107.8h1.9v1.9h-1.9zM380.7 105.1h1.9v1.9h-1.9zM385.7 102.0h1.9v1.9h-1.9zM376.0 100.1h1.9v1.9h-1.9zM373.1 113.5h1.9v1.9h-1.9zM383.1 108.9h1.9v1.9h-1.9zM384.2 113.7h1.9v1.9h-1.9zM377.2 109.8h1.9v1.9h-1.9zM381.8 121.8h1.9v1.9h-1.9zM377.8 112.2h1.9v1.9h-1.9zM382.7 117.2h1.9v1.9h-1.9zM382.1 116.3h1.9v1.9h-1.9zM374.8 108.5h1.9v1.9h-1.9zM370.5 109.7h1.9v1.9h-1.9zM391.5 111.5h1.9v1.9h-1.9zM380.4 111.6h1.9v1.9h-1.9zM380.7 102.3h1.9v1.9h-1.9zM376.6 109.0h1.9v1.9h-1.9zM380.8 105.0h1.9v1.9h-1.9zM379.5 105.7h1.9v1.9h-1.9zM373.5 106.2h1.9v1.9h-1.9zM376.0 115.0h1.9v1.9h-1.9zM386.6 113.4h1.9v1.9h-1.9zM379.0 106.8h1.9v1.9h-1.9zM372.3 106.9h1.9v1.9h-1.9zM387.7 116.8h1.9v1.9h-1.9zM381.1 108.6h1.9v1.9h-1.9zM380.0 112.5h1.9v1.9h-1.9zM380.0 112.5h1.9v1.9h-1.9zM376.2 110.3h1.9v1.9h-1.9zM378.3 116.3h1.9v1.9h-1.9zM390.9 129.5h1.9v1.9h-1.9zM396.6 113.6h1.9v1.9h-1.9zM397.1 119.1h1.9v1.9h-1.9zM395.9 121.8h1.9v1.9h-1.9zM394.2 103.2h1.9v1.9h-1.9zM400.4 117.8h1.9v1.9h-1.9zM405.2 121.5h1.9v1.9h-1.9zM387.2 129.0h1.9v1.9h-1.9zM393.6 122.9h1.9v1.9h-1.9zM407.9 127.6h1.9v1.9h-1.9zM391.6 117.3h1.9v1.9h-1.9zM389.1 123.9h1.9v1.9h-1.9zM399.8 109.1h1.9v1.9h-1.9zM399.2 126.3h1.9v1.9h-1.9zM401.0 112.2h1.9v1.9h-1.9zM393.6 108.2h1.9v1.9h-1.9zM390.7 120.8h1.9v1.9h-1.9zM397.2 129.5h1.9v1.9h-1.9zM398.3 115.2h1.9v1.9h-1.9zM390.0 131.6h1.9v1.9h-1.9zM397.8 117.8h1.9v1.9h-1.9zM392.1 108.9h1.9v1.9h-1.9zM400.1 109.5h1.9v1.9h-1.9zM399.9 123.6h1.9v1.9h-1.9zM395.1 103.9h1.9v1.9h-1.9zM399.0 130.4h1.9v1.9h-1.9zM393.0 107.0h1.9v1.9h-1.9zM402.3 119.3h1.9v1.9h-1.9zM393.9 128.8h1.9v1.9h-1.9zM395.6 122.0h1.9v1.9h-1.9zM395.0 111.5h1.9v1.9h-1.9zM398.1 110.6h1.9v1.9h-1.9zM388.3 113.4h1.9v1.9h-1.9zM403.1 127.7h1.9v1.9h-1.9zM407.7 126.8h1.9v1.9h-1.9zM404.9 120.3h1.9v1.9h-1.9zM394.9 122.2h1.9v1.9h-1.9zM392.3 124.5h1.9v1.9h-1.9zM394.8 120.3h1.9v1.9h-1.9zM392.8 116.9h1.9v1.9h-1.9zM401.8 116.2h1.9v1.9h-1.9zM393.7 120.6h1.9v1.9h-1.9zM401.3 116.5h1.9v1.9h-1.9zM391.3 104.5h1.9v1.9h-1.9zM390.4 127.4h1.9v1.9h-1.9zM396.6 122.3h1.9v1.9h-1.9zM402.3 120.6h1.9v1.9h-1.9zM399.4 113.7h1.9v1.9h-1.9zM389.1 123.6h1.9v1.9h-1.9zM396.5 123.1h1.9v1.9h-1.9zM464.3 115.8h1.9v1.9h-1.9zM480.9 109.4h1.9v1.9h-1.9zM470.5 129.2h1.9v1.9h-1.9zM468.8 118.3h1.9v1.9h-1.9zM458.5 124.2h1.9v1.9h-1.9zM467.6 128.9h1.9v1.9h-1.9zM469.5 113.7h1.9v1.9h-1.9zM472.3 114.9h1.9v1.9h-1.9zM467.2 131.3h1.9v1.9h-1.9zM475.3 118.1h1.9v1.9h-1.9zM474.4 124.7h1.9v1.9h-1.9zM473.1 117.5h1.9v1.9h-1.9zM470.4 120.9h1.9v1.9h-1.9zM473.0 120.4h1.9v1.9h-1.9zM467.0 116.4h1.9v1.9h-1.9zM472.5 108.1h1.9v1.9h-1.9zM470.0 124.1h1.9v1.9h-1.9zM470.9 114.5h1.9v1.9h-1.9zM469.9 112.7h1.9v1.9h-1.9zM475.3 113.7h1.9v1.9h-1.9zM461.0 106.1h1.9v1.9h-1.9zM471.6 119.0h1.9v1.9h-1.9zM467.5 105.1h1.9v1.9h-1.9zM469.2 109.5h1.9v1.9h-1.9zM466.5 117.1h1.9v1.9h-1.9zM465.9 120.0h1.9v1.9h-1.9zM466.0 112.9h1.9v1.9h-1.9zM468.8 130.5h1.9v1.9h-1.9zM478.5 125.7h1.9v1.9h-1.9zM466.0 117.2h1.9v1.9h-1.9zM474.9 124.5h1.9v1.9h-1.9zM461.2 116.6h1.9v1.9h-1.9zM466.0 124.0h1.9v1.9h-1.9zM473.4 112.3h1.9v1.9h-1.9zM481.5 114.6h1.9v1.9h-1.9zM483.2 115.6h1.9v1.9h-1.9zM469.5 134.4h1.9v1.9h-1.9zM467.2 112.9h1.9v1.9h-1.9zM477.9 116.8h1.9v1.9h-1.9zM472.6 105.7h1.9v1.9h-1.9zM479.6 126.1h1.9v1.9h-1.9zM471.9 123.6h1.9v1.9h-1.9zM467.3 112.8h1.9v1.9h-1.9zM461.5 120.5h1.9v1.9h-1.9zM476.7 124.9h1.9v1.9h-1.9zM475.0 123.6h1.9v1.9h-1.9zM465.0 105.3h1.9v1.9h-1.9zM473.5 118.7h1.9v1.9h-1.9zM475.3 114.7h1.9v1.9h-1.9zM465.3 121.2h1.9v1.9h-1.9zM467.0 102.3h1.9v1.9h-1.9zM466.7 109.2h1.9v1.9h-1.9zM464.0 112.2h1.9v1.9h-1.9zM475.1 138.5h1.9v1.9h-1.9zM479.3 113.4h1.9v1.9h-1.9zM476.2 116.5h1.9v1.9h-1.9zM472.2 111.0h1.9v1.9h-1.9zM469.6 102.0h1.9v1.9h-1.9zM479.6 110.2h1.9v1.9h-1.9zM473.2 111.8h1.9v1.9h-1.9zM471.5 106.5h1.9v1.9h-1.9zM468.0 125.4h1.9v1.9h-1.9zM473.2 99.6h1.9v1.9h-1.9zM474.6 105.3h1.9v1.9h-1.9zM471.5 121.8h1.9v1.9h-1.9zM466.5 114.3h1.9v1.9h-1.9zM468.7 120.8h1.9v1.9h-1.9zM474.9 129.5h1.9v1.9h-1.9zM471.8 135.2h1.9v1.9h-1.9zM464.9 133.2h1.9v1.9h-1.9zM468.6 124.1h1.9v1.9h-1.9zM469.3 117.9h1.9v1.9h-1.9zM465.1 120.7h1.9v1.9h-1.9zM480.9 118.5h1.9v1.9h-1.9zM469.9 117.2h1.9v1.9h-1.9zM473.8 115.3h1.9v1.9h-1.9zM470.0 119.1h1.9v1.9h-1.9zM477.0 125.7h1.9v1.9h-1.9zM464.3 111.5h1.9v1.9h-1.9zM470.1 124.8h1.9v1.9h-1.9zM475.2 115.3h1.9v1.9h-1.9zM481.5 115.7h1.9v1.9h-1.9zM477.6 130.0h1.9v1.9h-1.9zM478.6 119.0h1.9v1.9h-1.9zM473.1 103.4h1.9v1.9h-1.9zM460.4 111.6h1.9v1.9h-1.9zM473.9 126.8h1.9v1.9h-1.9zM469.4 126.5h1.9v1.9h-1.9zM473.1 130.9h1.9v1.9h-1.9zM461.4 109.7h1.9v1.9h-1.9zM464.8 107.7h1.9v1.9h-1.9zM478.9 108.8h1.9v1.9h-1.9zM465.5 113.6h1.9v1.9h-1.9zM474.8 113.0h1.9v1.9h-1.9zM474.0 122.1h1.9v1.9h-1.9zM466.6 95.8h1.9v1.9h-1.9zM465.1 105.9h1.9v1.9h-1.9zM478.8 110.7h1.9v1.9h-1.9zM464.2 120.6h1.9v1.9h-1.9zM470.3 108.7h1.9v1.9h-1.9zM475.9 125.4h1.9v1.9h-1.9zM471.5 110.3h1.9v1.9h-1.9zM465.3 98.7h1.9v1.9h-1.9zM472.1 120.7h1.9v1.9h-1.9zM465.0 117.4h1.9v1.9h-1.9zM487.7 107.0h1.9v1.9h-1.9zM460.8 122.7h1.9v1.9h-1.9zM467.7 112.7h1.9v1.9h-1.9zM473.4 116.0h1.9v1.9h-1.9zM475.4 121.8h1.9v1.9h-1.9zM476.3 118.2h1.9v1.9h-1.9zM458.4 129.4h1.9v1.9h-1.9zM460.8 126.6h1.9v1.9h-1.9zM471.4 104.6h1.9v1.9h-1.9zM470.4 125.1h1.9v1.9h-1.9zM464.5 117.5h1.9v1.9h-1.9zM466.0 108.1h1.9v1.9h-1.9zM466.7 128.6h1.9v1.9h-1.9zM473.7 116.9h1.9v1.9h-1.9zM469.6 118.3h1.9v1.9h-1.9zM350.0 164.2h1.9v1.9h-1.9zM346.0 169.0h1.9v1.9h-1.9zM346.0 171.0h1.9v1.9h-1.9zM351.5 170.0h1.9v1.9h-1.9zM352.5 172.0h1.9v1.9h-1.9zM364.0 171.0h1.9v1.9h-1.9zM374.0 172.7h1.9v1.9h-1.9zM345.0 181.0h1.9v1.9h-1.9zM352.5 181.0h1.9v1.9h-1.9zM377.0 164.0h1.9v1.9h-1.9zM369.0 163.0h1.9v1.9h-1.9zM376.7 162.0h1.9v1.9h-1.9zM390.5 166.0h1.9v1.9h-1.9zM353.2 60.1h1.9v1.9h-1.9zM368.2 52.8h1.9v1.9h-1.9zM377.1 62.4h1.9v1.9h-1.9zM378.7 68.8h1.9v1.9h-1.9zM380.3 75.2h1.9v1.9h-1.9zM379.7 81.5h1.9v1.9h-1.9zM357.3 82.5h1.9v1.9h-1.9zM358.3 82.5h1.9v1.9h-1.9zM369.2 89.5h1.9v1.9h-1.9zM379.7 88.0h1.9v1.9h-1.9zM473.0 62.4h1.9v1.9h-1.9zM457.7 78.4h1.9v1.9h-1.9zM469.2 86.3h1.9v1.9h-1.9zM386.7 89.5h1.9v1.9h-1.9zM469.0 86.0h1.9v1.9h-1.9zM459.5 94.5h1.9v1.9h-1.9zM454.7 152.4h1.9v1.9h-1.9zM464.0 145.0h1.9v1.9h-1.9zM401.5 155.4h1.9v1.9h-1.9z" fill="#000"/>
<text transform="translate(0.46,252.80) scale(1.054,1)" font-size="24.78" stroke="#000" stroke-width="0.28">MECA 32</text>
<text transform="translate(31.93,282.00) scale(1.034,1)" font-size="24.20" stroke="#000" stroke-width="0.29">CD41</text>
<path d="M100 271.2H190" stroke="#000" stroke-width="2.8"/><path d="M187.6 263.8L203.2 271.2L187.6 278.4Z" fill="#000"/>
<text transform="translate(258.88,248.80) scale(1.235,1)" font-size="25.87" font-family="Liberation Serif" stroke="#000" stroke-width="0.22">α</text>
<text transform="translate(275.41,249.00) scale(1.073,1)" font-size="24.01" stroke="#000" stroke-width="0.27">4-integrin</text>
<text transform="translate(336.79,277.50) scale(1.057,1)" font-size="24.35" stroke="#000" stroke-width="0.28">CD45</text>
<path d="M413.4 261.8H503" stroke="#000" stroke-width="2.8"/><path d="M501.5 254.6L515.6 261.8L501.5 269.2Z" fill="#000"/>
<path d="M14 184.4V80" stroke="#000" stroke-width="3.1"/><path d="M7.0 82.2L14 67.0L21.0 82.2Z" fill="#000"/>
<path d="M295.7 184V79" stroke="#000" stroke-width="3.1"/><path d="M288.4 81.6L295.7 66L303.0 81.6Z" fill="#000"/>
<rect x="99.8" y="326.9" width="365.8" height="354.6" fill="#c6c6c6" stroke="#6e6e6e" stroke-width="1.3"/>
<path d="M172.96 326.9V681.5M246.12 326.9V681.5M319.28 326.9V681.5M392.44 326.9V681.5" stroke="#666" stroke-width="1.1" fill="none"/>
<path d="M99.8 326.5V681.5H465.6M95.8 326.90H99.8M95.8 356.45H99.8M95.8 386.00H99.8M95.8 415.55H99.8M95.8 445.10H99.8M95.8 474.65H99.8M95.8 504.20H99.8M95.8 533.75H99.8M95.8 563.30H99.8M95.8 592.85H99.8M95.8 622.40H99.8M95.8 651.95H99.8M95.8 681.50H99.8M99.80 681.5V685.5M172.96 681.5V685.5M246.12 681.5V685.5M319.28 681.5V685.5M392.44 681.5V685.5M465.60 681.5V685.5" stroke="#111" stroke-width="1.5" fill="none"/>
<rect x="99.8" y="336.90" width="144.40" height="10.00" fill="#7d7d7d" stroke="#111" stroke-width="1.6"/>
<path d="M245.00 340.30H259.80M259.80 335.90V344.90" stroke="#111" stroke-width="1.5" fill="none"/>
<rect x="99.8" y="366.50" width="88.90" height="10.10" fill="#7d7d7d" stroke="#111" stroke-width="1.6"/>
<path d="M189.50 371.20H224.00M224.00 366.60V375.70" stroke="#111" stroke-width="1.5" fill="none"/>
<rect x="99.8" y="395.10" width="331.40" height="11.50" fill="#7d7d7d" stroke="#111" stroke-width="1.6"/>
<path d="M432.00 399.80H456.70M456.70 395.50V404.30" stroke="#111" stroke-width="1.5" fill="none"/>
<rect x="99.8" y="425.10" width="317.20" height="10.60" fill="#7d7d7d" stroke="#111" stroke-width="1.6"/>
<path d="M417.80 429.10H431.70M431.70 424.50V433.70" stroke="#111" stroke-width="1.5" fill="none"/>
<rect x="99.8" y="455.10" width="213.00" height="10.30" fill="#7d7d7d" stroke="#111" stroke-width="1.6"/>
<path d="M313.60 459.80H335.50M335.50 455.70V464.30" stroke="#111" stroke-width="1.5" fill="none"/>
<rect x="99.8" y="484.20" width="153.10" height="10.70" fill="#7d7d7d" stroke="#111" stroke-width="1.6"/>
<path d="M253.70 487.70H323.10M323.10 483.30V492.00" stroke="#111" stroke-width="1.5" fill="none"/>
<rect x="99.8" y="514.00" width="123.80" height="11.20" fill="#7d7d7d" stroke="#111" stroke-width="1.6"/>
<path d="M224.40 518.80H242.50M242.50 514.50V523.20" stroke="#111" stroke-width="1.5" fill="none"/>
<rect x="99.8" y="543.90" width="313.10" height="10.10" fill="#7d7d7d" stroke="#111" stroke-width="1.6"/>
<path d="M413.70 548.60H457.20M457.20 544.40V553.30" stroke="#111" stroke-width="1.5" fill="none"/>
<rect x="99.8" y="573.40" width="85.20" height="10.50" fill="#7d7d7d" stroke="#111" stroke-width="1.6"/>
<path d="M185.80 577.30H196.70M196.70 572.30V581.80" stroke="#111" stroke-width="1.5" fill="none"/>
<rect x="99.8" y="603.10" width="22.70" height="10.80" fill="#7d7d7d" stroke="#111" stroke-width="1.6"/>
<path d="M123.30 607.80H126.90M126.90 603.50V612.40" stroke="#111" stroke-width="1.5" fill="none"/>
<rect x="99.8" y="632.20" width="153.60" height="11.40" fill="#7d7d7d" stroke="#111" stroke-width="1.6"/>
<path d="M254.20 637.10H264.80M264.80 632.40V641.00" stroke="#111" stroke-width="1.5" fill="none"/>
<rect x="99.8" y="662.40" width="149.00" height="10.70" fill="#7d7d7d" stroke="#111" stroke-width="1.6"/>
<path d="M249.60 666.20H269.20M269.20 661.80V670.50" stroke="#111" stroke-width="1.5" fill="none"/>
<text transform="translate(69.25,348.20) scale(0.925,1)" font-size="15.80" stroke="#000" stroke-width="0.45">Flk</text>
<text transform="translate(56.51,377.70) scale(1.126,1)" font-size="15.39" stroke="#000" stroke-width="0.38">c-kit</text>
<text transform="translate(38.77,436.30) scale(0.883,1)" font-size="16.26" stroke="#000" stroke-width="0.45">PECAM</text>
<text transform="translate(21.66,466.10) scale(0.956,1)" font-size="16.40" stroke="#000" stroke-width="0.45">MECA-32</text>
<text transform="translate(1.78,495.10) scale(0.992,1)" font-size="15.94" stroke="#000" stroke-width="0.45">VE-cadherin</text>
<text transform="translate(48.28,525.00) scale(1.001,1)" font-size="16.11" stroke="#000" stroke-width="0.45">CD34</text>
<text transform="translate(48.31,553.75) scale(0.965,1)" font-size="16.04" stroke="#000" stroke-width="0.45">CD41</text>
<text transform="translate(48.29,585.00) scale(0.981,1)" font-size="16.26" stroke="#000" stroke-width="0.45">CD45</text>
<text transform="translate(38.83,613.75) scale(1.139,1)" font-size="15.61" stroke="#000" stroke-width="0.37">ter119</text>
<text transform="translate(48.49,643.10) scale(0.938,1)" font-size="16.35" stroke="#000" stroke-width="0.45">Mac1</text>
<text transform="translate(62.75,672.50) scale(0.855,1)" font-size="16.26" stroke="#000" stroke-width="0.45">Gr1</text>
<text transform="translate(2.48,406.50) scale(1.357,1)" font-size="14.95" font-family="Liberation Serif" stroke="#000" stroke-width="0.28">α</text>
<text transform="translate(15.85,406.80) scale(1.192,1)" font-size="14.70" stroke="#000" stroke-width="0.35">4-integrin</text>
<text x="101.00" y="709.6" font-size="17.4" text-anchor="middle" stroke="#000" stroke-width="0.45">0</text>
<text x="174.16" y="709.6" font-size="17.4" text-anchor="middle" stroke="#000" stroke-width="0.45">20</text>
<text x="247.32" y="709.6" font-size="17.4" text-anchor="middle" stroke="#000" stroke-width="0.45">40</text>
<text x="320.48" y="709.6" font-size="17.4" text-anchor="middle" stroke="#000" stroke-width="0.45">60</text>
<text x="393.64" y="709.6" font-size="17.4" text-anchor="middle" stroke="#000" stroke-width="0.45">80</text>
<text x="466.80" y="709.6" font-size="17.4" text-anchor="middle" stroke="#000" stroke-width="0.45">100</text>
<text transform="translate(501.50,709.00) scale(0.969,1)" font-size="18.81" stroke="#000" stroke-width="0.45">%</text>
<text transform="translate(172.13,745.40) scale(1.040,1)" font-size="26.91" font-weight="bold">Positive cells, %</text>
</svg>
</body></html>
